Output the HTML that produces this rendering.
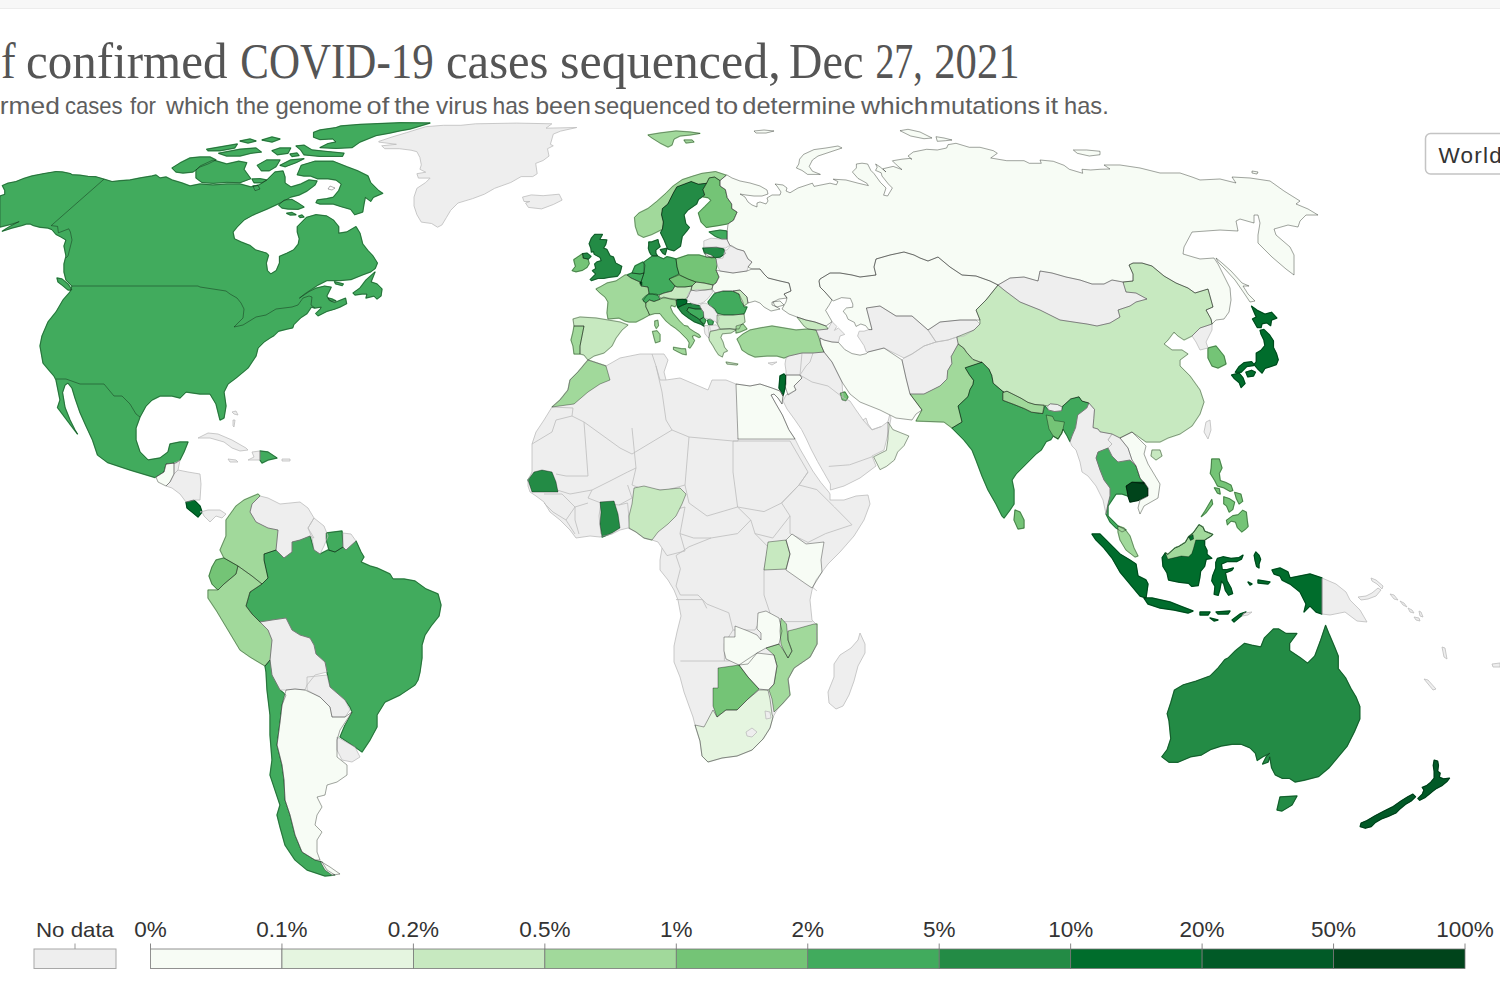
<!DOCTYPE html>
<html><head><meta charset="utf-8"><title>Share of confirmed COVID-19 cases sequenced</title>
<style>
html,body{margin:0;padding:0;background:#fff;}
body{width:1500px;height:1000px;overflow:hidden;position:relative;font-family:"Liberation Sans",Arial,sans-serif;}
.topbar{position:absolute;left:0;top:0;width:1500px;height:8px;background:#f7f7f7;border-bottom:1px solid #ececec;}
svg{position:absolute;left:0;top:0;}
.nl{fill:none;stroke:#bdbdbd;stroke-width:0.8;stroke-linejoin:round;}
</style></head>
<body>
<div class="topbar"></div>
<svg width="1500" height="1000" viewBox="0 0 1500 1000" font-family="Liberation Sans, Arial, sans-serif">
<g id="title">
<text x="-3" y="78" text-anchor="end" font-family="Liberation Serif, serif" font-size="50" fill="#555">Share o</text>
<text x="1.12" y="78" font-family="Liberation Serif, serif" font-size="50" fill="#555" textLength="14.57" lengthAdjust="spacingAndGlyphs">f</text>
<text x="26.04" y="78" font-family="Liberation Serif, serif" font-size="50" fill="#555" textLength="201.42" lengthAdjust="spacingAndGlyphs">confirmed</text>
<text x="240.28" y="78" font-family="Liberation Serif, serif" font-size="50" fill="#555" textLength="193.43" lengthAdjust="spacingAndGlyphs">COVID-19</text>
<text x="446.06" y="78" font-family="Liberation Serif, serif" font-size="50" fill="#555" textLength="102.40" lengthAdjust="spacingAndGlyphs">cases</text>
<text x="560.00" y="78" font-family="Liberation Serif, serif" font-size="50" fill="#555" textLength="220.73" lengthAdjust="spacingAndGlyphs">sequenced,</text>
<text x="789.08" y="78" font-family="Liberation Serif, serif" font-size="50" fill="#555" textLength="74.31" lengthAdjust="spacingAndGlyphs">Dec</text>
<text x="875.49" y="78" font-family="Liberation Serif, serif" font-size="50" fill="#555" textLength="47.15" lengthAdjust="spacingAndGlyphs">27,</text>
<text x="934.29" y="78" font-family="Liberation Serif, serif" font-size="50" fill="#555" textLength="85.26" lengthAdjust="spacingAndGlyphs">2021</text>
<text x="-6" y="113.6" text-anchor="end" font-size="24" fill="#5e5e5e">The share of confi</text>
<text x="-0.20" y="113.6" font-size="24" fill="#5e5e5e" textLength="60.05" lengthAdjust="spacingAndGlyphs">rmed</text>
<text x="65.08" y="113.6" font-size="24" fill="#5e5e5e" textLength="57.56" lengthAdjust="spacingAndGlyphs">cases</text>
<text x="130.00" y="113.6" font-size="24" fill="#5e5e5e" textLength="26.01" lengthAdjust="spacingAndGlyphs">for</text>
<text x="166.00" y="113.6" font-size="24" fill="#5e5e5e" textLength="63.40" lengthAdjust="spacingAndGlyphs">which</text>
<text x="236.00" y="113.6" font-size="24" fill="#5e5e5e" textLength="33.38" lengthAdjust="spacingAndGlyphs">the</text>
<text x="275.50" y="113.6" font-size="24" fill="#5e5e5e" textLength="86.53" lengthAdjust="spacingAndGlyphs">genome</text>
<text x="366.57" y="113.6" font-size="24" fill="#5e5e5e" textLength="22.65" lengthAdjust="spacingAndGlyphs">of</text>
<text x="394.30" y="113.6" font-size="24" fill="#5e5e5e" textLength="35.67" lengthAdjust="spacingAndGlyphs">the</text>
<text x="436.00" y="113.6" font-size="24" fill="#5e5e5e" textLength="51.48" lengthAdjust="spacingAndGlyphs">virus</text>
<text x="492.50" y="113.6" font-size="24" fill="#5e5e5e" textLength="36.77" lengthAdjust="spacingAndGlyphs">has</text>
<text x="535.16" y="113.6" font-size="24" fill="#5e5e5e" textLength="55.69" lengthAdjust="spacingAndGlyphs">been</text>
<text x="594.01" y="113.6" font-size="24" fill="#5e5e5e" textLength="116.42" lengthAdjust="spacingAndGlyphs">sequenced</text>
<text x="715.40" y="113.6" font-size="24" fill="#5e5e5e" textLength="22.75" lengthAdjust="spacingAndGlyphs">to</text>
<text x="742.24" y="113.6" font-size="24" fill="#5e5e5e" textLength="113.34" lengthAdjust="spacingAndGlyphs">determine</text>
<text x="861.00" y="113.6" font-size="24" fill="#5e5e5e" textLength="67.50" lengthAdjust="spacingAndGlyphs">which</text>
<text x="929.88" y="113.6" font-size="24" fill="#5e5e5e" textLength="110.24" lengthAdjust="spacingAndGlyphs">mutations</text>
<text x="1044.80" y="113.6" font-size="24" fill="#5e5e5e" textLength="13.20" lengthAdjust="spacingAndGlyphs">it</text>
<text x="1064.03" y="113.6" font-size="24" fill="#5e5e5e" textLength="44.71" lengthAdjust="spacingAndGlyphs">has.</text>
</g>
<g id="map">
<g stroke-width="1.4" stroke-linejoin="round">
<path d="M0,196 4.8,194.4 4.8,190.4 2.4,185.6 8,183.2 16,181.6 24,178.4 32,176 44,173.6 56,171.6 62.4,172 70.4,173.6 72,174.8 80,175.2 88,176.4 96,176.8 104,179.2 112,181.6 120,180.8 130,180 140,178 152,176 156,175 160,178 166,177 172,180 182,183 190,186 200,184 213,185 227,184 240,184 251,187 259,185 267,180 275,172 283,171 285,177 285,183 291,187 301,184 309,180 317,181 315,185 307,191 299,195 291,197 280,203 267,209 253,215 244,220 237,227 233,232 234.4,238.8 241,242 249.8,245.4 255.3,249.8 266.3,253.1 268.5,255.3 266.3,263 267.4,270.7 270.7,274 276.2,270.7 279.5,263 279.5,256.4 287.2,253.1 293.8,249.8 298.2,244.3 299.3,238.8 297.3,232 297.3,226.7 306.7,217.3 316,214.7 326.7,216 333.3,220 338.7,226.7 338.7,233.3 346.7,232 356,226.7 360,233.3 362.7,244 368,250.7 373,256 377.4,263 375.2,268.5 370.8,271.8 362,275.1 351,279.5 340,280.6 326.8,280.6 318,285 311.4,289.4 304.8,293.8 299.3,298.2 302.6,296 309.2,291.6 315.8,288.3 324.6,286.1 331.2,287.2 329,291.6 326.8,296 329,300.4 334.5,302.6 340,300.4 345.5,298.2 346.6,303.7 340,307 334.5,309.2 326.8,311.4 318,315.8 315.8,313.6 320.2,309.2 321.3,307 314.7,308.1 311.4,307 307,313.6 300.4,318 293.8,324.6 292.7,327.9 287.2,329 278.4,331.2 274,335.6 270,338 264,342 258,348 256,356 248,368 236,378 228,384 224,392 226,406 224,418 220,420 216,404 210,394 200,394 186,392 180,398 172,396 160,396 152,400 146,406 140,417 136,428 136,440 140,452 148,460 160,458 168,452 170,444 180,442 188,442 184,452 180,460 176,463 166,464 164,472 156,477 155,477.5 130,470 107.5,462.5 97.5,455 92.5,440 86,426 80,412.5 75,398 72,388 68,383 65,385 62.5,392.5 65,407.5 70,420 75,430 77.5,434 72.5,427.5 65,417.5 57.5,407.5 60,400 56,380 54,376 48,369 43,363 40,346 42,336 48,322 56,312 63,300 70,292 72,286 66,280 64,272 64,264 66,256 64,246 66,240 61,237 56,234.4 52,229.6 48,228 40,227.2 33.6,225.6 30.4,224 26.4,224 21.6,225.6 12,228 2.4,231.2 8,227.5 16,223.2 19.2,221.6 12,224 0,227Z" fill="#41ab5d" stroke="#41ab5d"/>
<path d="M353,293 360,288 366,280 375,272 373,277 371,282 377,284 382,289 381,296 377,299 374,296 370,297 366,298 367,294 362,294 355,295Z" fill="#41ab5d" stroke="#41ab5d"/>
<path d="M334.5,281.7 343.3,283.9 342.2,285.5 335.6,283.9Z" fill="#41ab5d" stroke="#41ab5d"/>
<path d="M328,298 332,299 336,301 331,301Z" fill="#41ab5d" stroke="#41ab5d"/>
<path d="M57,278 62,279 68,284 72,290 68,290 62,285 58,282Z" fill="#41ab5d" stroke="#41ab5d"/>
<path d="M172,168 180,163 190,158 200,157 210,157 216,160 208,164 200,167 193,172 183,173 176,172Z" fill="#41ab5d" stroke="#41ab5d"/>
<path d="M196,170 200,166 213,160 226.7,164 238.7,161.3 246.7,162.7 244,169.3 250.7,178.7 240,182.7 226.7,182.3 213.3,183.3 202,182.5 196,178Z" fill="#41ab5d" stroke="#41ab5d"/>
<path d="M206.7,149.3 237.3,144 234.7,148 220,150.7 208,150.7Z" fill="#41ab5d" stroke="#41ab5d"/>
<path d="M218.7,153.3 240,149.3 256,148 261.3,152 250.7,153.3 240,156 226.7,156Z" fill="#41ab5d" stroke="#41ab5d"/>
<path d="M252,179 260,178.7 266.7,180 262,182.7 254,182.7Z" fill="#41ab5d" stroke="#41ab5d"/>
<path d="M253,186 258,185.5 260,189 255,190.7Z" fill="#41ab5d" stroke="#41ab5d"/>
<path d="M257.3,165.3 266.7,160 280,160 276,166.7 269.3,170.7 261.3,170.7Z" fill="#41ab5d" stroke="#41ab5d"/>
<path d="M280,165.3 290.7,160 304,158.7 296,162.7 285.3,166.7Z" fill="#41ab5d" stroke="#41ab5d"/>
<path d="M296,146 304,145.2 312,150 328,151.6 344,153.2 342.4,156.4 320,156.4 304,154.8 300.8,150Z" fill="#41ab5d" stroke="#41ab5d"/>
<path d="M272,150.7 280,148 290.7,148 288,153.3 277.3,154.7Z" fill="#41ab5d" stroke="#41ab5d"/>
<path d="M290,154 297,153 299,155.5 292,156.5Z" fill="#41ab5d" stroke="#41ab5d"/>
<path d="M313.6,132.4 320,130 336,127.6 340.8,126 360,124.4 400,122.8 430,123 410,129 400,130.8 390,133 376,135.6 360,142 352,147.6 336,148.4 320,147.6 328,143.6 336,142 332.8,138.8 320,139.6 313.6,137.2Z" fill="#41ab5d" stroke="#41ab5d"/>
<path d="M262,140 272,137 280,139 272,142Z" fill="#41ab5d" stroke="#41ab5d"/>
<path d="M240,141 250,139 256,141 248,143Z" fill="#41ab5d" stroke="#41ab5d"/>
<path d="M297.3,174.7 301.3,165.3 314.7,161.3 333.3,161.3 346.7,166.7 357.3,170.7 368,176 370.7,182.7 378.7,190.7 382.7,193.3 373.3,197.3 370.7,201.3 365.3,197.3 364,204 362.7,212 354.7,214.7 350.7,209.3 341.3,206.7 333.3,204 320,204 316,202.7 317.3,200 326.7,198.7 333.3,197.3 338.7,190.7 341.3,184 336,180 328,178.7 317.3,178.7 310.7,176 304,176Z" fill="#41ab5d" stroke="#41ab5d"/>
<path d="M278.7,205 284,200 292,199.5 298,203 304,207 298,209.3 288,209 282,208Z" fill="#41ab5d" stroke="#41ab5d"/>
<path d="M286.7,213.3 292,212.5 296,214.7 290,215Z" fill="#41ab5d" stroke="#41ab5d"/>
<path d="M298.7,216 302,215 304,217 300,217.5Z" fill="#41ab5d" stroke="#41ab5d"/>
<path d="M156,477 164,472 166,464 174,463 174,474 170,482 166,486 158,482Z" fill="#f7fcf5" stroke="#f7fcf5"/>
<path d="M186,502 194,500 200,506 202,512 198,517 192,512 187,508Z" fill="#006d2c" stroke="#006d2c"/>
<path d="M260,451 268,452 277,458 268,460 262,463 260,460Z" fill="#41ab5d" stroke="#41ab5d"/>
<path d="M226,520 236,506 244,500 258,494 260,496 252,504 250,512 256,522 268,528 278,530 276,550 264,554 264,560 268,578 262,584 252,576 238,566 224,558 220,550 226,536 226,526Z" fill="#a1d99b" stroke="#a1d99b"/>
<path d="M326,533 342,531 343,547 335,552 329,550 326,539Z" fill="#41ab5d" stroke="#41ab5d"/>
<path d="M264,554 276,550 284,558 292,552 292,542 300,540 310,536 314,550 320,554 328,550 335,552 343,547 346,550 356,541 361,552 364,557 361,562 370,566 377,568 390,574 393,579 404,579 415,581 426,589 438,594 441,605 439,616 431,626 425,635 422,645 422,658 420,672 418,680 415,685 400,695 385,702 377,715 377,727 370,740 362,752 355,747 340,737 345,725 352,712 350,707 345,700 330,687 327,672 325,662 316,654 314,645 310,638 300,635 292,630 286,618 272,620 260,622 252,614 246,606 250,592 262,584 268,578 264,560Z" fill="#41ab5d" stroke="#41ab5d"/>
<path d="M209,576 212,567 216,560 224,558 238,566 236,574 224,584 218,590 212,584Z" fill="#74c476" stroke="#74c476"/>
<path d="M208,590 218,590 224,584 236,574 238,566 252,576 262,584 250,592 246,606 252,614 260,622 268,630 272,640 270,660 265,666 250,657 240,650 228,630 216,610 208,598Z" fill="#a1d99b" stroke="#a1d99b"/>
<path d="M265,666 270,660 272,675 280,690 286,695 282,705 280,722 277,745 282,765 284,780 285,800 290,815 295,835 302,852 315,860 322,862 327,870 335,875 325,876 307,870 295,860 285,845 280,827 277,815 280,805 275,790 270,775 272,760 270,735 270,715 267,690 266,672Z" fill="#41ab5d" stroke="#41ab5d"/>
<path d="M286,690 295,689 305,690 320,697 330,707 332,717 345,717 352,712 340,730 337,740 337,757 347,765 347,775 337,782 327,785 325,795 317,797 322,807 317,815 315,825 322,832 317,840 317,852 320,860 315,860 302,852 295,835 290,815 285,800 284,780 282,765 277,745 280,722 282,705Z" fill="#f7fcf5" stroke="#f7fcf5"/>
<path d="M320,861 330,867 340,874 332,875 325,870Z" fill="#f7fcf5" stroke="#f7fcf5"/>
<path d="M648,135 660,133 668,132 676,131 690,132 700,133.4 690,135 680,136 674,139 672,145 668,147 660,143 652,138Z" fill="#a1d99b" stroke="#a1d99b"/>
<path d="M684,140 692,140 694,142 686,143Z" fill="#a1d99b" stroke="#a1d99b"/>
<path d="M634.5,217.5 639,213 648,208.5 657,201.3 666,193.2 673.2,186 682.2,179.7 693,176.1 702,173.4 715.5,171.6 726.3,175.2 720,180.6 714.6,177 709.2,177.9 706.5,183.3 698.4,184.2 691.2,181.5 684,184.2 676.8,186.9 673.2,193.2 667.8,204 662.4,208.5 661.5,214.8 663.3,222 662.4,229.2 658.8,231 651.6,234.6 643.5,237.3 638.1,234.6 635.4,226.5Z" fill="#a1d99b" stroke="#a1d99b"/>
<path d="M691.2,181.5 698.4,184.2 706.5,183.3 702.9,189.6 704.7,195 698.4,199.5 696.6,204 687.6,210.3 684,214.8 685.8,223.8 689.4,227.4 686.7,231 682.2,236.4 680.4,246.3 674.1,250.8 667.8,249 664.2,240 660.6,232.8 662.4,229.2 663.3,222 661.5,214.8 662.4,208.5 667.8,204 673.2,193.2 676.8,186.9 684,184.2Z" fill="#238b45" stroke="#238b45"/>
<path d="M706.5,183.3 709.2,177.9 714.6,177 720,180.6 720,186 725.4,189.6 727.2,197.7 731.7,204 731.7,208.5 737.1,212.1 733.5,220.2 728.1,223.8 718.2,225.6 706.5,227.4 701.1,222 698.4,213 704.7,206.7 711,200.4 708.3,197.7 702.9,196.8 704.7,195 702.9,189.6Z" fill="#74c476" stroke="#74c476"/>
<path d="M709.2,231.9 720,230.1 727.2,231 727.2,239.1 721.8,239.1 715.5,236.4Z" fill="#41ab5d" stroke="#41ab5d"/>
<path d="M702.9,248.1 716.4,247.2 723.6,249 725.4,253.5 720,257.1 711,258 704.7,253.5Z" fill="#238b45" stroke="#238b45"/>
<path d="M705,253 711,255 714,257 706,257Z" fill="#f7fcf5" stroke="#f7fcf5"/>
<path d="M676,259 688,255 699,255 706,257 714,257 716,259 717,265 716,270 719,277 716,283 713,285 704,283 696,282 688,279 680,275 679,274 677,267Z" fill="#74c476" stroke="#74c476"/>
<path d="M644,262 651,257 652.6,256 657.5,256 660,257.4 663.5,258.8 667,256.7 670.5,257.4 676,259 677,267 679,274 669,279 675,286 672,291 664,293 659,295 656,294 649,294 648,287 641,286 641,282 644,273Z" fill="#41ab5d" stroke="#41ab5d"/>
<path d="M648.8,242 651.6,242 657.9,239.6 658.6,243 660,246.6 655.8,250 655.8,253.2 657.5,256 652.6,256 650.9,254.3 649.5,251.8 648.4,248.3 648.8,244.8Z" fill="#238b45" stroke="#238b45"/>
<path d="M660.3,249.7 667,248.3 665.2,254.6 662.8,253.2Z" fill="#238b45" stroke="#238b45"/>
<path d="M632,273 635,266 643,262 645,265 644,273 640,274Z" fill="#41ab5d" stroke="#41ab5d"/>
<path d="M627,275 632,273 640,274 644,273 641,282 640,282 631,278Z" fill="#41ab5d" stroke="#41ab5d"/>
<path d="M640,282 642,282 642,285 640,284Z" fill="#006d2c" stroke="#006d2c"/>
<path d="M596,289 600,287 607,283 616,281 625,275 627,275 631,278 640,282 640,284 641,286 648,287 649,293 645,298 643,301 645.8,303 645.8,306.8 648,311.3 649.5,315 644,318 636,322 629,322 625,321 619,318 608,319 607,313 608,302 605,297 600,293Z" fill="#a1d99b" stroke="#a1d99b"/>
<path d="M654.8,321 657.8,320.3 658.5,325.5 656.3,328.5 654.8,325.5Z" fill="#a1d99b" stroke="#a1d99b"/>
<path d="M642,299.3 645.8,295.5 649,294 652.5,294 657.8,295.5 660,299.3 654,301.5 649.5,300 645.8,303Z" fill="#41ab5d" stroke="#41ab5d"/>
<path d="M659,295 664,293 672,291 675,286 677,287 685,287 692,286 691,290 688,297 685,299 675,299 667,298 660,298Z" fill="#c7e9c0" stroke="#c7e9c0"/>
<path d="M669,279 679,275 688,279 696,282 692,286 685,287 677,287 675,286Z" fill="#74c476" stroke="#74c476"/>
<path d="M692,286 696,282 704,283 713,285 712,289 704,290 696,291 691,290Z" fill="#c7e9c0" stroke="#c7e9c0"/>
<path d="M675.8,300 682.5,299.3 687,300 686.3,303.8 682.5,305.3 678,307.5 676.5,304.5Z" fill="#006d2c" stroke="#006d2c"/>
<path d="M678,307.5 682.5,305.3 686.3,303.8 692.3,303.8 699.8,306 701.3,309 695.3,309 688.5,307.5 687,310.5 690,313.5 697.5,318 702,322.5 704.3,326.3 700.5,324 694.5,321.8 688.5,318 682.5,313.5Z" fill="#238b45" stroke="#238b45"/>
<path d="M688.5,307.5 695.3,309 701.3,309 703.5,312 703.5,317.3 699.8,319.5 697.5,318 690,313.5 687,310.5Z" fill="#41ab5d" stroke="#41ab5d"/>
<path d="M699.8,319.5 703.5,317.3 705.8,320.3 704.3,324 701.3,322.5Z" fill="#41ab5d" stroke="#41ab5d"/>
<path d="M707.3,320.3 710.3,318.8 713.3,321.8 712.5,324.8 708.8,324.8Z" fill="#41ab5d" stroke="#41ab5d"/>
<path d="M708,302 715,293 723,291 732,291 739,294 743,302 744,307 747,307 744,314 733,315 724,315 717,313 715,309 709,305Z" fill="#41ab5d" stroke="#41ab5d"/>
<path d="M733,291 740,290 747,297 748,303 744,306 741,301 739,294Z" fill="#c7e9c0" stroke="#c7e9c0"/>
<path d="M717,315 724,315 733,315 744,314 745,322 741,325 739,329 731,329 720,329 717,323Z" fill="#c7e9c0" stroke="#c7e9c0"/>
<path d="M708.8,337.5 710.3,331.5 717,330 720.8,329.3 730,328.5 736,330 731,333 722.3,333.8 720.8,337.5 723,342 724.5,347.3 727.5,351 723.8,352.5 722.3,357 718.5,354.8 715.5,350.3 712.5,345 709.5,340.5Z" fill="#c7e9c0" stroke="#c7e9c0"/>
<path d="M726,362 738,364 737,365 727,364Z" fill="#c7e9c0" stroke="#c7e9c0"/>
<path d="M737,339 743,334 750,330 760,328 772,326 784,328 796,330 808,329 816,330 819,338 821,345 824,352 813,353 802,353 789,356 784,358 777,356 767,356 755,357 748,354 742,350 740,345Z" fill="#a1d99b" stroke="#a1d99b"/>
<path d="M736,326 743,324 747,329 740,332 736,333Z" fill="#a1d99b" stroke="#a1d99b"/>
<path d="M797,317 806,320 815,322 826,326 828,329 819,330 816,330 808,329 804,326Z" fill="#c7e9c0" stroke="#c7e9c0"/>
<path d="M720,271 733,273 747,271 752,269 760,269 764,274 768,278 780,281 789,283 791,291 784,294 787,298 779,299 773,302 775,306 780,309 771,311 764,307 760,303 755,301 748,303 747,297 740,290 733,291 723,291 715,293 712,289 713,285 716,283 719,277 716,270Z" fill="#f7fcf5" stroke="#f7fcf5"/>
<path d="M772,302 780,301 784,305 777,307 772,305Z" fill="#f7fcf5" stroke="#f7fcf5"/>
<path d="M594.7,234.4 602.4,234.4 599.7,239.4 606.8,239.9 605.7,244.3 603.5,248.2 606.8,249.3 610.1,255.9 613.4,257 615.6,263 621.7,266.3 620,272.9 617.3,276.2 609,277.3 603.5,278.4 598,278.4 591.4,280.6 590.3,279.5 595.8,274 592.5,270.7 595.8,268.5 594.7,264.1 596.9,261.9 601.3,260.8 600.2,257.5 594.2,254.2 593.6,251.5 591.4,252 590.9,248.2 589.2,243.8 591.4,238.3Z" fill="#238b45" stroke="#238b45"/>
<path d="M573.8,259.7 582.6,253.7 583.2,258.1 588.1,259.2 589.2,263.6 587,267.4 582.6,270.2 576,271.8 572.2,270.7 575.5,266.3 574.4,262.5Z" fill="#74c476" stroke="#74c476"/>
<path d="M582.6,253.7 587,253.1 590.9,256.4 588.1,259.2 583.2,258.1Z" fill="#238b45" stroke="#238b45"/>
<path d="M573,319 580,317 596,318 608,320 620,322 628,325 622,330 616,338 612,346 604,353 594,356 588,360 584,355 580,354 580,346 582,336 584,326 574,326Z" fill="#c7e9c0" stroke="#c7e9c0"/>
<path d="M574,326 584,326 582,336 580,346 580,354 574,354 573,346 571,340 573,332Z" fill="#a1d99b" stroke="#a1d99b"/>
<path d="M645.8,303 649.5,300 654,301.5 660,299.3 663.8,297 670.5,299.3 676.5,300 676.5,304.5 675,306.8 671.3,305.3 670.5,307.5 672.8,312.8 675.8,316.5 679.5,321 684,325.5 687.8,326.3 689.3,328.5 693.8,331.5 699,334.5 700.5,336.8 699,337.5 694.5,335.3 692.3,336 693,338.3 694.5,340.5 693,343.5 690,348 688.5,347.3 689.3,342.8 687,339 684,336 679.5,331.5 675,327.8 670.5,324.8 666,321 662.3,316.5 660,313.5 654.8,313.5 649.5,315 648,311.3 645.8,306.8Z" fill="#a1d99b" stroke="#a1d99b"/>
<path d="M673.5,347.3 681.8,348.8 685.5,348.8 686.3,354.8 682.5,354 678,351.8 673.5,349.5Z" fill="#a1d99b" stroke="#a1d99b"/>
<path d="M652.5,331.5 657,330.8 660,334.5 660,341.3 655.5,342.8 654,337.5Z" fill="#a1d99b" stroke="#a1d99b"/>
<path d="M727,175 732,178 740,181 750,183 760,186 767,190 768,194 762,196 754,196 746,195 740,194 745,197 748,202 752,205 757,207 757,203 760,202 766,204 768,201 767,198 772,195 780,195 781,192 777,186 775,184 783,185 787,188 786,191 790,192.8 798,188 812.4,183.2 814,186.4 830,183.2 836.4,184.8 838,181.6 833.2,179.2 846,180 858,183.2 868.4,185.6 866.8,183.2 858,178.4 852.4,172 856.4,168 856.4,164 862,163.2 867.6,164 870.8,170.4 874,173.6 880.4,182.4 886,188 883.6,195.2 887.6,196 892.4,188 888.4,184 882,176 881.2,172.8 875.6,170.4 877.2,167.2 875.6,164 880.4,167.2 886,172 882.8,168.8 893.2,166.4 902,169.6 896.4,164.8 892.4,160.8 902,159.2 910,158.4 912,159.3 908,156 913.3,152 926.7,149.3 937.3,150 946.7,148 948,144.7 956,143.3 969.3,147.3 980,147.3 993.3,150.7 997.3,153.3 990.7,158 1006.7,160.7 1024,160.7 1029.3,163.3 1041.3,163.3 1040,160 1053.3,161.3 1064,165.3 1069.3,169.3 1082.7,173.3 1082,169.3 1090.7,170 1100,169.3 1110,169 1104,165 1120,165 1140,168 1160,173 1180,173 1192,177 1200,180 1220,179 1236,183 1232,177 1250,178 1270,181 1284,191 1300,201 1296,204 1308,209 1318,215 1306,215 1300,221 1298,227 1288,225 1274,229 1276,235 1290,247 1294,255 1294,275 1286,269 1272,257 1258,243 1258,235 1260,223 1258,215 1254,215 1254,223 1240,219 1236,221 1238,231 1220,230 1192,232 1184,247 1183,254 1193,257 1200,259 1214,258 1218,264 1224,276 1230,288 1231,300 1229,312 1224,319 1216,320 1212,324 1211,319 1206,310 1213,307 1208,289 1195,293 1188,288 1176,283 1164,276 1152,266 1142,263 1133,263 1129,265 1133,274 1133,281 1123,282 1112,280 1104,284 1092,284 1080,280 1066,277 1052,273 1040,271 1038,281 1024,277 1010,278 998,285 990,281 976,276 962,275 950,267 938,257 928,261 920,258 914,255 904,252 890,255 876,259 874,267 876,275 860,277 852,275 840,273 830,273 820,279 819,281 820,287 825,292 832,300 828.8,305.6 825.6,310.4 828.8,316 832,321.6 826,326 815,322 806,320 797,317 789,314 782,309 786,302 787,298 784,294 791,291 789,283 780,281 768,278 764,274 760,269 752,269 748,267 752,262 748,259 744,251 737,249 729.9,245.4 727.2,240 727.2,231 728.1,223.8 733.5,220.2 737.1,212.1 731.7,208.5 731.7,204 727.2,197.7 725.4,189.6 720,186 720,180.6 726.3,175.2Z" fill="#f7fcf5" stroke="#f7fcf5"/>
<path d="M796.4,168 798.8,164 799.6,159.2 803.6,154.4 814,149.6 826,148 838,146 842,148 830,152 818,156 812.4,160 809.2,166.4 812.4,171.2 820.4,174.4 807.6,174.4 802,170.4Z" fill="#f7fcf5" stroke="#f7fcf5"/>
<path d="M900,130.7 908,129.3 920,132 932,138 924,138.7 910.7,136Z" fill="#f7fcf5" stroke="#f7fcf5"/>
<path d="M936,136.7 944,138 952,140 945.3,140.7 937.3,141.3Z" fill="#f7fcf5" stroke="#f7fcf5"/>
<path d="M1073.3,150 1086.7,150 1100,151.3 1100,154.7 1089.3,156 1077.3,153.3Z" fill="#f7fcf5" stroke="#f7fcf5"/>
<path d="M754,131 764,130 774,131 766,133 756,133Z" fill="#f7fcf5" stroke="#f7fcf5"/>
<path d="M1252,171 1258,172 1257,174 1252,173Z" fill="#f7fcf5" stroke="#f7fcf5"/>
<path d="M1216,258 1222,263 1231,271 1242,283 1249,286 1243,286 1248,294 1255,301 1250,302 1244,293 1235,280 1224,268 1218,262Z" fill="#f7fcf5" stroke="#f7fcf5"/>
<path d="M820,279 830,273 840,273 852,275 860,277 876,275 874,267 876,259 890,255 904,252 914,255 920,258 928,261 938,257 950,267 962,275 976,276 990,281 998,285 994,290 986,300 976,310 980,320 976,320 960,320 940,322 928,330 912,316 896,316 880,306 866.4,308 872,329.6 868.8,329.6 865.6,325.6 860.8,324 856,326.4 854.4,322.4 848,319.2 846.4,315.2 843.2,311.2 846.4,308 852.8,307.2 852.8,304 850.4,298.4 841.6,297.6 833.6,300.8 832,300 825,292 820,287 819,281Z" fill="#f7fcf5" stroke="#f7fcf5"/>
<path d="M821,345 820,338 824,340 832,342 838.4,342.4 844.8,349.6 852,353.6 860,355.2 866.4,353.6 868,352 884,348 902,360 906,378 910,394 922,410 916,414 912,420 896,418 888,414 880,410 860,402 850,394 842,382 832,362 824,352Z" fill="#f7fcf5" stroke="#f7fcf5"/>
<path d="M910,394 924,394 940,386 947,379 947.7,370.6 951.9,363.6 951.2,356.6 958.2,344 963.8,348.2 966.6,352.4 972.9,359.4 980.6,362.2 982,362.2 965.2,367.8 969.4,374.8 973.6,380.4 972.9,384.6 970,389.5 968,396.5 958,406 962,422 952,428 944,422 916,421 922,410Z" fill="#a1d99b" stroke="#a1d99b"/>
<path d="M956.8,337 958.2,344 963.8,348.2 966.6,352.4 972.9,359.4 980.6,362.2 982,362.2 989,369.2 991.8,375.5 993.2,383.2 1003,391.6 1004,392 1007,391.2 1021,398.2 1028,402.4 1035,404.5 1044,405.2 1047.6,405.9 1050.4,403.8 1057.4,404.5 1061.6,406.6 1063,405.9 1070.7,398.9 1079,396.8 1081.9,401 1088.9,403 1094.5,409.4 1093.8,418.5 1093,427.6 1098,429 1100,431.8 1112,434 1120,438 1132,432 1146,442 1160,442 1168,438 1180,434 1192,426 1200,414 1204,402 1200,390 1190,376 1180,366 1180,360 1188,354 1182,350 1172,350 1164,344 1168,340 1174,332 1178,336 1184,340 1192,336 1200,328 1212,324 1211,319 1206,310 1213,307 1208,289 1195,293 1188,288 1176,283 1164,276 1152,266 1142,263 1133,263 1129,265 1133,274 1133,281 1123,282 1126,292 1136,293 1147,299 1136,302 1130,306 1118,310 1120,317 1110,323 1097,326 1087,324 1080,323 1060,320 1040,310 1020,302 1004,290 998,285 994,290 986,300 976,310 980,320 980,324 974,330Z" fill="#c7e9c0" stroke="#c7e9c0"/>
<path d="M965.2,367.8 982,362.2 989,369.2 991.8,375.5 993.2,383.2 1003,391.6 1004,392 1002.8,392.6 1002.8,400.3 1014,404.5 1024.5,408.7 1031.5,412.2 1042.7,413.6 1044.8,405.9 1048.3,410 1054.6,411.5 1061.6,410.8 1063,405.9 1070.7,398.9 1079,396.8 1081.9,401 1088.9,403 1086.8,408 1077.7,415 1075.6,427.6 1072,436 1070,441.6 1067.2,436 1063,429 1061.6,433.2 1058,438.8 1053.2,436 1051,439.5 1046.2,441.6 1041.3,450 1036,454 1024,466 1016,474 1012,480 1014,490 1014,504 1010,510 1004,518 1002,516 996,504 988,490 982,476 976,460 972,450 964,440 958,434 952,428 962,422 958,406 968,396.5 970,389.5 972.9,384.6 973.6,380.4 969.4,374.8Z" fill="#41ab5d" stroke="#41ab5d"/>
<path d="M1002.8,392.6 1007,391.2 1021,398.2 1028,402.4 1035,404.5 1044,405.2 1042.7,413.6 1031.5,412.2 1024.5,408.7 1014,404.5 1002.8,400.3Z" fill="#a1d99b" stroke="#a1d99b"/>
<path d="M1046.2,415 1052.5,416.4 1054.6,420.6 1064.4,422 1063,429 1061.6,433.2 1058,438.8 1053.2,436 1049,429 1047.6,422Z" fill="#74c476" stroke="#74c476"/>
<path d="M1015,510 1020,512 1024,520 1024,528 1018,529 1014,520Z" fill="#74c476" stroke="#74c476"/>
<path d="M1208,348 1216,346 1224,356 1226,364 1218,368 1212,366 1208,358Z" fill="#74c476" stroke="#74c476"/>
<path d="M1251.6,306.2 1257.3,310.4 1264.9,314.2 1271.5,312.3 1276.8,318 1271.5,320 1270.6,325.6 1266.8,322.8 1262,323.7 1261.1,327.5 1257.3,327.5 1252.5,319 1256.3,317.1Z" fill="#006d2c" stroke="#006d2c"/>
<path d="M1260.1,330.4 1263.9,329.4 1269.6,335.1 1273.4,340.8 1273.4,347.5 1276.3,353.2 1278.2,359.8 1276.3,364.6 1270.6,366.5 1264.9,368.4 1262,373.1 1257.3,368.4 1251.6,361.7 1244,362.7 1239.2,366.5 1235.4,372.2 1241.1,372.2 1246.8,366.5 1253.5,365.5 1256.3,361.7 1256.3,353.2 1261.1,350.3 1264.9,345.6 1263.9,339.9 1261.1,334.2Z" fill="#006d2c" stroke="#006d2c"/>
<path d="M1231.6,375 1239.2,373.1 1243,377.9 1245,383.6 1241.1,387.4 1239.2,382.6 1234.5,378.8Z" fill="#006d2c" stroke="#006d2c"/>
<path d="M1245.9,372.2 1251.6,370.3 1255.4,372.2 1253.5,376 1247.8,376.9Z" fill="#006d2c" stroke="#006d2c"/>
<path d="M1152,450 1160,450 1162,456 1156,460 1151,456Z" fill="#c7e9c0" stroke="#c7e9c0"/>
<path d="M1098,452 1108,448 1112,456 1118,462 1130,460 1136,466 1140,478 1144,484 1132,482 1126,486 1128,496 1122,494 1116,494 1112,500 1108,506 1108,516 1112,520 1118,526 1126,530 1122,532 1116,528 1110,522 1106,514 1108,504 1110,496 1110,488 1104,480 1100,470 1096,458Z" fill="#41ab5d" stroke="#41ab5d"/>
<path d="M1126,486 1132,482 1144,482 1148,488 1148,496 1140,500 1130,502 1128,496Z" fill="#00441b" stroke="#00441b"/>
<path d="M1120,438 1132,432 1140,440 1146,446 1144,454 1148,464 1154,474 1160,484 1158,498 1144,506 1140,514 1138,508 1140,500 1148,496 1148,488 1144,482 1140,478 1136,466 1132,460 1128,448Z" fill="#f7fcf5" stroke="#f7fcf5"/>
<path d="M1118,526 1124,528 1130,536 1134,548 1138,556 1135,557 1126,550 1120,540 1118,532Z" fill="#a1d99b" stroke="#a1d99b"/>
<path d="M1092,534 1100,534 1110,544 1120,554 1130,560 1136,564 1138,576 1146,580 1148,584 1146,598 1140,596 1130,584 1120,572 1112,558 1104,548 1096,540Z" fill="#006d2c" stroke="#006d2c"/>
<path d="M1144,598 1152,598 1170,602 1180,606 1193,611 1188,613 1174,610 1160,608 1148,604Z" fill="#006d2c" stroke="#006d2c"/>
<path d="M1200,612 1210,612 1208,615 1200,615Z" fill="#006d2c" stroke="#006d2c"/>
<path d="M1216,612 1230,611 1228,614 1218,614Z" fill="#006d2c" stroke="#006d2c"/>
<path d="M1210,618 1218,620 1214,621Z" fill="#006d2c" stroke="#006d2c"/>
<path d="M1232,620 1240,614 1246,612 1240,617 1234,622Z" fill="#006d2c" stroke="#006d2c"/>
<path d="M1165.4,552.8 1167.8,554.4 1175,548 1179,546.4 1185.4,542.4 1188.6,536.8 1193.4,532.8 1199,524.8 1203,527.2 1204.6,531.2 1212.6,534.4 1211,536 1204.6,540 1204.6,545.6 1207,550.4 1207,554.4 1211.8,558.4 1206.2,559.2 1204.6,566.4 1200.6,571.2 1199.8,577.6 1198.2,585.6 1191.8,586.4 1188.6,583.2 1179.8,582.4 1175.8,581.6 1168.6,580 1167,572.8 1163,566.4 1162.2,557.6Z" fill="#006d2c" stroke="#006d2c"/>
<path d="M1165.4,552.8 1167.8,554.4 1175,548 1179,546.4 1185.4,542.4 1188.6,536.8 1193.4,532.8 1199,524.8 1203,527.2 1204.6,531.2 1212.6,534.4 1211,536 1204.6,540 1195.8,540 1193.4,548.8 1191.8,553.6 1188.6,556.8 1181.4,556 1175,557.6 1167.8,559.2Z" fill="#a1d99b" stroke="#a1d99b"/>
<path d="M1188.6,537 1193,534.5 1193.6,539 1190.5,540.5Z" fill="#006d2c" stroke="#006d2c"/>
<path d="M1217.4,558.4 1223,556.8 1231,558.4 1239,557.6 1243,555.2 1241.4,559.2 1236.6,561.6 1227,561.6 1221.4,564 1222.2,569.6 1227,569.6 1233.4,568 1231.8,570.4 1225.4,572.8 1227,580.8 1231,588 1232.6,593.6 1228.6,595.2 1225.4,590.4 1223.8,584 1221.4,580.8 1219.8,589.6 1218.2,595.2 1214.2,594.4 1215,586.4 1211.8,580.8 1212.6,576 1215.8,568 1215.8,562.4Z" fill="#006d2c" stroke="#006d2c"/>
<path d="M1255.8,552 1259,555.2 1260.6,559.2 1259,564 1259,568 1256.6,566.4 1255,560 1254.2,555.2Z" fill="#006d2c" stroke="#006d2c"/>
<path d="M1248,582 1252,584 1250,585Z" fill="#006d2c" stroke="#006d2c"/>
<path d="M1258,580 1270,582 1268,584 1258,583Z" fill="#006d2c" stroke="#006d2c"/>
<path d="M1272,570 1280,568 1288,572 1290,578 1300,576 1310,574 1322,578 1322,614 1316,612 1310,606 1304,612 1306,604 1300,592 1290,584 1282,580 1280,576 1274,574Z" fill="#006d2c" stroke="#006d2c"/>
<path d="M1211.7,459 1219.3,459 1222,468 1219.3,473.4 1220.2,480.6 1225.6,482.4 1231,485.1 1232.8,490.5 1230.1,491.4 1223.8,487.8 1217.5,486 1214.8,480.6 1210.3,473.4 1211.2,468Z" fill="#74c476" stroke="#74c476"/>
<path d="M1214.4,487.8 1219.3,488.7 1220.2,494.1 1217.5,493.2Z" fill="#74c476" stroke="#74c476"/>
<path d="M1234.6,492.3 1240.9,494.1 1242.7,501.3 1239.1,504 1236.4,498.6Z" fill="#74c476" stroke="#74c476"/>
<path d="M1223.8,496.8 1229.2,498.6 1234.6,502.2 1232.8,509.4 1229.2,512.1 1226.5,505.8 1223.8,504Z" fill="#74c476" stroke="#74c476"/>
<path d="M1226.5,520.2 1232.8,515.7 1238.2,514.8 1242.7,510.3 1246.3,512.1 1247.2,520.2 1248.1,526.5 1245.4,529.2 1241.8,531.9 1237.3,527.4 1235.5,522 1231,521.1 1227.4,524.7Z" fill="#74c476" stroke="#74c476"/>
<path d="M1211.7,499.5 1212.6,504 1205.8,513 1201.3,516.6 1204.9,511.2Z" fill="#74c476" stroke="#74c476"/>
<path d="M1161.8,756.8 1167.2,749.6 1170.8,738.8 1169,720.8 1167.2,713.6 1170.8,702.8 1174.4,690.2 1183.4,684.8 1196,681.2 1210.4,675.8 1217.6,668.6 1224.8,659.6 1228.4,657.8 1235.6,650.6 1244.6,643.4 1251.8,645.2 1260.8,647 1264.4,638 1273.4,629 1278.8,629 1286,633.5 1296.8,633.5 1289.6,643.4 1289.6,650.6 1300.4,657.8 1307.6,663.2 1314.8,656 1320.2,641.6 1325.6,625.4 1329.2,634.4 1334.6,647 1338.2,656 1338.2,668.6 1345.4,677.6 1350.8,688.4 1356.2,697.4 1359.8,706.4 1359.8,719 1354.4,731.6 1347.2,746 1338.2,756.8 1329.2,767.6 1318.4,776.6 1304,780.2 1295,782 1289.6,778.4 1282.4,778.4 1275.2,774.8 1271.6,767.6 1269.8,756.8 1268,762.2 1262.6,764 1266.2,756.8 1269.8,753.2 1262.6,756.8 1257.2,760.4 1255.4,753.2 1250,747.8 1241,744.2 1232,744.2 1221.2,746 1210.4,749.6 1201.4,755 1190.6,756.8 1178,762.2 1169,762.2Z" fill="#238b45" stroke="#238b45"/>
<path d="M1280,797 1297,796 1292,805 1282,811 1277,810Z" fill="#238b45" stroke="#238b45"/>
<path d="M1434.2,760.2 1437.6,761.1 1438.4,765.3 1437.6,771.3 1440.1,773 1439.3,777.2 1443.5,778.9 1449.5,778.1 1446.9,781.5 1441.8,785.7 1436.7,788.3 1433.3,790.8 1429.1,794.2 1424.8,797.6 1419.7,800.2 1418,798.5 1422.3,794.2 1424,790 1422.3,787.4 1426.5,785.7 1430.8,782.3 1434.2,778.1 1434.2,771.3 1433.3,765.3Z" fill="#015a27" stroke="#015a27"/>
<path d="M1412.9,794.2 1415.5,796.8 1411.2,801 1405.3,804.4 1399.3,809.5 1395.9,812.9 1388.3,816.3 1381.5,818.9 1375.5,822.3 1371.3,826.5 1365.3,828.2 1360.2,826.5 1361.1,823.1 1367,820.6 1375.5,815.5 1384,811.2 1392.5,807 1401,801 1407.8,796.8Z" fill="#015a27" stroke="#015a27"/>
<path d="M786,375 800,375 802,378 794,386 796,390 788,395 785,386Z" fill="#f7fcf5" stroke="#f7fcf5"/>
<path d="M780,376 784,374 786,376 786,384 783,396 779,388Z" fill="#006d2c" stroke="#006d2c"/>
<path d="M888,422 892.8,429.6 900.8,432.8 908.8,436 904,445.6 897.6,452 894.4,460 886.4,466.4 880,469.6 873.6,456.8 886.4,450.4 888,439Z" fill="#e5f5e0" stroke="#e5f5e0"/>
<path d="M840,393 845,392 848,397 846,401 842,400Z" fill="#74c476" stroke="#74c476"/>
<path d="M588,360 600,364 606,366 610,380 600,384 588,392 574,404 552,407 560,400 568,390 570,380 578,372Z" fill="#a1d99b" stroke="#a1d99b"/>
<path d="M736,384 750,386 760,384 772,388 780,391 783,396 782,404 778,398 774,394 771,395 776,404 782.4,415 788.8,429.6 795,439 738,439Z" fill="#f7fcf5" stroke="#f7fcf5"/>
<path d="M528,480 534,472 542,470 552,472 556,482 558,492 544,492 532,492 530,486Z" fill="#238b45" stroke="#238b45"/>
<path d="M600,502 614,501 618,514 620,528 612,533 602,537 600,524 601,512Z" fill="#238b45" stroke="#238b45"/>
<path d="M634,488 644,486 660,490 680,488 686,494 682,504 676,516 668,524 658,532 652,540 644,538 636,532 629,528 629,516 632,504Z" fill="#c7e9c0" stroke="#c7e9c0"/>
<path d="M768,542 786,540 790,554 786,569 764,570 766,556Z" fill="#c7e9c0" stroke="#c7e9c0"/>
<path d="M786,540 792,534 806,544 824,542 821,560 822,572 812,588 806,584 786,570 790,554Z" fill="#f7fcf5" stroke="#f7fcf5"/>
<path d="M724,637 735,637 735,626 748,631 757,635 761,640 761,633 757,629 758,613 766,611 779,618 782,631 779,644 766,648 757,653 748,664 739,665 726,659 724,651Z" fill="#f7fcf5" stroke="#f7fcf5"/>
<path d="M788,631 796,629 814,624 817,624 817,644 810,657 794,668 788,679 790,695 783,703 774,712 772,699 769,690 774,684 777,666 774,655 766,648 779,644 784,651 788,658 792,651 788,640Z" fill="#a1d99b" stroke="#a1d99b"/>
<path d="M781,618 786.5,624 788,640 792,651 788,658 784,651 781,644 780,631Z" fill="#a1d99b" stroke="#a1d99b"/>
<path d="M739,665 757,653 774,655 777,666 774,684 768,690 759,689 748,677Z" fill="#f7fcf5" stroke="#f7fcf5"/>
<path d="M718,668 739,665 748,677 759,689 748,699 737,710 726,710 717,717 713,706 713,688 718,688Z" fill="#74c476" stroke="#74c476"/>
<path d="M695,725 704,727 713,710 717,717 726,710 737,710 748,699 759,690 768,690 770,699 772,714 773,717 770,728 763,739 752,750 737,756 722,758 708,762 702,756 700,741Z" fill="#e5f5e0" stroke="#e5f5e0"/>
</g>
<g>
<path d="M0,196 4.8,194.4 4.8,190.4 2.4,185.6 8,183.2 16,181.6 24,178.4 32,176 44,173.6 56,171.6 62.4,172 70.4,173.6 72,174.8 80,175.2 88,176.4 96,176.8 104,179.2 112,181.6 120,180.8 130,180 140,178 152,176 156,175 160,178 166,177 172,180 182,183 190,186 200,184 213,185 227,184 240,184 251,187 259,185 267,180 275,172 283,171 285,177 285,183 291,187 301,184 309,180 317,181 315,185 307,191 299,195 291,197 280,203 267,209 253,215 244,220 237,227 233,232 234.4,238.8 241,242 249.8,245.4 255.3,249.8 266.3,253.1 268.5,255.3 266.3,263 267.4,270.7 270.7,274 276.2,270.7 279.5,263 279.5,256.4 287.2,253.1 293.8,249.8 298.2,244.3 299.3,238.8 297.3,232 297.3,226.7 306.7,217.3 316,214.7 326.7,216 333.3,220 338.7,226.7 338.7,233.3 346.7,232 356,226.7 360,233.3 362.7,244 368,250.7 373,256 377.4,263 375.2,268.5 370.8,271.8 362,275.1 351,279.5 340,280.6 326.8,280.6 318,285 311.4,289.4 304.8,293.8 299.3,298.2 302.6,296 309.2,291.6 315.8,288.3 324.6,286.1 331.2,287.2 329,291.6 326.8,296 329,300.4 334.5,302.6 340,300.4 345.5,298.2 346.6,303.7 340,307 334.5,309.2 326.8,311.4 318,315.8 315.8,313.6 320.2,309.2 321.3,307 314.7,308.1 311.4,307 307,313.6 300.4,318 293.8,324.6 292.7,327.9 287.2,329 278.4,331.2 274,335.6 270,338 264,342 258,348 256,356 248,368 236,378 228,384 224,392 226,406 224,418 220,420 216,404 210,394 200,394 186,392 180,398 172,396 160,396 152,400 146,406 140,417 136,428 136,440 140,452 148,460 160,458 168,452 170,444 180,442 188,442 184,452 180,460 176,463 166,464 164,472 156,477 155,477.5 130,470 107.5,462.5 97.5,455 92.5,440 86,426 80,412.5 75,398 72,388 68,383 65,385 62.5,392.5 65,407.5 70,420 75,430 77.5,434 72.5,427.5 65,417.5 57.5,407.5 60,400 56,380 54,376 48,369 43,363 40,346 42,336 48,322 56,312 63,300 70,292 72,286 66,280 64,272 64,264 66,256 64,246 66,240 61,237 56,234.4 52,229.6 48,228 40,227.2 33.6,225.6 30.4,224 26.4,224 21.6,225.6 12,228 2.4,231.2 8,227.5 16,223.2 19.2,221.6 12,224 0,227Z" fill="#41ab5d"/>
<path d="M353,293 360,288 366,280 375,272 373,277 371,282 377,284 382,289 381,296 377,299 374,296 370,297 366,298 367,294 362,294 355,295Z" fill="#41ab5d"/>
<path d="M334.5,281.7 343.3,283.9 342.2,285.5 335.6,283.9Z" fill="#41ab5d"/>
<path d="M328,298 332,299 336,301 331,301Z" fill="#41ab5d"/>
<path d="M57,278 62,279 68,284 72,290 68,290 62,285 58,282Z" fill="#41ab5d"/>
<path d="M172,168 180,163 190,158 200,157 210,157 216,160 208,164 200,167 193,172 183,173 176,172Z" fill="#41ab5d"/>
<path d="M196,170 200,166 213,160 226.7,164 238.7,161.3 246.7,162.7 244,169.3 250.7,178.7 240,182.7 226.7,182.3 213.3,183.3 202,182.5 196,178Z" fill="#41ab5d"/>
<path d="M206.7,149.3 237.3,144 234.7,148 220,150.7 208,150.7Z" fill="#41ab5d"/>
<path d="M218.7,153.3 240,149.3 256,148 261.3,152 250.7,153.3 240,156 226.7,156Z" fill="#41ab5d"/>
<path d="M252,179 260,178.7 266.7,180 262,182.7 254,182.7Z" fill="#41ab5d"/>
<path d="M253,186 258,185.5 260,189 255,190.7Z" fill="#41ab5d"/>
<path d="M257.3,165.3 266.7,160 280,160 276,166.7 269.3,170.7 261.3,170.7Z" fill="#41ab5d"/>
<path d="M280,165.3 290.7,160 304,158.7 296,162.7 285.3,166.7Z" fill="#41ab5d"/>
<path d="M296,146 304,145.2 312,150 328,151.6 344,153.2 342.4,156.4 320,156.4 304,154.8 300.8,150Z" fill="#41ab5d"/>
<path d="M272,150.7 280,148 290.7,148 288,153.3 277.3,154.7Z" fill="#41ab5d"/>
<path d="M290,154 297,153 299,155.5 292,156.5Z" fill="#41ab5d"/>
<path d="M313.6,132.4 320,130 336,127.6 340.8,126 360,124.4 400,122.8 430,123 410,129 400,130.8 390,133 376,135.6 360,142 352,147.6 336,148.4 320,147.6 328,143.6 336,142 332.8,138.8 320,139.6 313.6,137.2Z" fill="#41ab5d"/>
<path d="M262,140 272,137 280,139 272,142Z" fill="#41ab5d"/>
<path d="M240,141 250,139 256,141 248,143Z" fill="#41ab5d"/>
<path d="M297.3,174.7 301.3,165.3 314.7,161.3 333.3,161.3 346.7,166.7 357.3,170.7 368,176 370.7,182.7 378.7,190.7 382.7,193.3 373.3,197.3 370.7,201.3 365.3,197.3 364,204 362.7,212 354.7,214.7 350.7,209.3 341.3,206.7 333.3,204 320,204 316,202.7 317.3,200 326.7,198.7 333.3,197.3 338.7,190.7 341.3,184 336,180 328,178.7 317.3,178.7 310.7,176 304,176Z" fill="#41ab5d"/>
<path d="M278.7,205 284,200 292,199.5 298,203 304,207 298,209.3 288,209 282,208Z" fill="#41ab5d"/>
<path d="M286.7,213.3 292,212.5 296,214.7 290,215Z" fill="#41ab5d"/>
<path d="M298.7,216 302,215 304,217 300,217.5Z" fill="#41ab5d"/>
<path d="M378.8,141.4 392,137 406.7,132.6 425.7,126.7 443.3,125.3 460.9,125.3 475.6,123.8 516.7,123.1 551.9,123.8 546,128.2 576.8,127.5 560.7,131.1 553.3,134.1 550.4,144.3 553.3,145.8 547.5,148.7 549,156.1 543.1,160.5 535.7,163.4 537.2,173.7 532.8,176.6 521.1,176.6 510.8,182.5 494.7,188.3 484.4,194.2 472.7,198.6 458,203 450.7,210.3 446.3,217.7 441.9,225 437.5,227.2 431.6,223.5 421.3,222.1 416.9,214.7 414,205.9 414,197.1 416.9,188.3 425.7,182.5 430.1,178.1 418.4,178.1 416.9,173.7 425.7,172.2 419.9,169.3 421.3,164.9 419.9,157.5 416.9,151.7 411.1,150.2 399.3,148.7 384.7,148.7 381.7,145.8 396.4,144.3 378.8,142.1Z" fill="#eeeeee"/>
<path d="M522.5,197.1 531.3,194.9 543.1,195.7 559.2,194.2 562.1,200.1 553.3,204.5 541.6,208.9 528.4,207.4 525.5,203 529.9,201.5 524,201.5Z" fill="#eeeeee"/>
<path d="M156,477 164,472 166,464 174,463 174,474 170,482 166,486 158,482Z" fill="#f7fcf5"/>
<path d="M174,463 177,462 180,460 178,470 174,474Z" fill="#eeeeee"/>
<path d="M166,486 170,482 174,474 178,470 188,472 200,474 201,484 200,500 194,500 186,502 180,494 172,488Z" fill="#eeeeee"/>
<path d="M186,502 194,500 200,506 202,512 198,517 192,512 187,508Z" fill="#006d2c"/>
<path d="M200,512 208,510 220,510 226,514 222,518 216,516 210,522 204,516 202,512Z" fill="#eeeeee"/>
<path d="M198,438 208,433 218,434 232,440 246,448 248,450 240,451 232,448 224,442 210,438Z" fill="#eeeeee"/>
<path d="M252,452 260,451 260,460 248,460 254,457Z" fill="#eeeeee"/>
<path d="M260,451 268,452 277,458 268,460 262,463 260,460Z" fill="#41ab5d"/>
<path d="M228,459 236,460 238,462 230,462Z" fill="#eeeeee"/>
<path d="M282,459 290,459 290,461 282,461Z" fill="#eeeeee"/>
<path d="M232,412 236,411 238,415 234,414Z" fill="#eeeeee"/>
<path d="M233,420 235,420 234,427 233,426Z" fill="#eeeeee"/>
<path d="M226,520 236,506 244,500 258,494 260,496 252,504 250,512 256,522 268,528 278,530 276,550 264,554 264,560 268,578 262,584 252,576 238,566 224,558 220,550 226,536 226,526Z" fill="#a1d99b"/>
<path d="M252,504 260,496 268,498 280,504 300,502 308,508 314,518 308,528 314,538 310,536 300,540 292,542 292,552 284,558 276,550 278,530 268,528 256,522 250,512Z" fill="#eeeeee"/>
<path d="M314,518 324,526 328,536 324,546 320,554 314,550 312,538 308,528Z" fill="#eeeeee"/>
<path d="M326,533 342,531 343,547 335,552 329,550 326,539Z" fill="#41ab5d"/>
<path d="M343,533 351,534 356,541 346,550 343,547Z" fill="#eeeeee"/>
<path d="M264,554 276,550 284,558 292,552 292,542 300,540 310,536 314,550 320,554 328,550 335,552 343,547 346,550 356,541 361,552 364,557 361,562 370,566 377,568 390,574 393,579 404,579 415,581 426,589 438,594 441,605 439,616 431,626 425,635 422,645 422,658 420,672 418,680 415,685 400,695 385,702 377,715 377,727 370,740 362,752 355,747 340,737 345,725 352,712 350,707 345,700 330,687 327,672 325,662 316,654 314,645 310,638 300,635 292,630 286,618 272,620 260,622 252,614 246,606 250,592 262,584 268,578 264,560Z" fill="#41ab5d"/>
<path d="M209,576 212,567 216,560 224,558 238,566 236,574 224,584 218,590 212,584Z" fill="#74c476"/>
<path d="M208,590 218,590 224,584 236,574 238,566 252,576 262,584 250,592 246,606 252,614 260,622 268,630 272,640 270,660 265,666 250,657 240,650 228,630 216,610 208,598Z" fill="#a1d99b"/>
<path d="M260,622 272,620 286,618 292,630 300,635 310,638 314,645 316,654 325,662 327,672 315,675 307,685 305,690 295,689 286,690 280,690 272,675 270,660 272,640 268,630Z" fill="#eeeeee"/>
<path d="M307,677 327,675 330,687 345,700 350,710 345,717 332,717 330,707 320,697 307,690Z" fill="#eeeeee"/>
<path d="M265,666 270,660 272,675 280,690 286,695 282,705 280,722 277,745 282,765 284,780 285,800 290,815 295,835 302,852 315,860 322,862 327,870 335,875 325,876 307,870 295,860 285,845 280,827 277,815 280,805 275,790 270,775 272,760 270,735 270,715 267,690 266,672Z" fill="#41ab5d"/>
<path d="M286,690 295,689 305,690 320,697 330,707 332,717 345,717 352,712 340,730 337,740 337,757 347,765 347,775 337,782 327,785 325,795 317,797 322,807 317,815 315,825 322,832 317,840 317,852 320,860 315,860 302,852 295,835 290,815 285,800 284,780 282,765 277,745 280,722 282,705Z" fill="#f7fcf5"/>
<path d="M320,861 330,867 340,874 332,875 325,870Z" fill="#f7fcf5"/>
<path d="M337,737 355,747 360,757 352,762 342,760 337,750Z" fill="#eeeeee"/>
<path d="M648,135 660,133 668,132 676,131 690,132 700,133.4 690,135 680,136 674,139 672,145 668,147 660,143 652,138Z" fill="#a1d99b"/>
<path d="M684,140 692,140 694,142 686,143Z" fill="#a1d99b"/>
<path d="M634.5,217.5 639,213 648,208.5 657,201.3 666,193.2 673.2,186 682.2,179.7 693,176.1 702,173.4 715.5,171.6 726.3,175.2 720,180.6 714.6,177 709.2,177.9 706.5,183.3 698.4,184.2 691.2,181.5 684,184.2 676.8,186.9 673.2,193.2 667.8,204 662.4,208.5 661.5,214.8 663.3,222 662.4,229.2 658.8,231 651.6,234.6 643.5,237.3 638.1,234.6 635.4,226.5Z" fill="#a1d99b"/>
<path d="M691.2,181.5 698.4,184.2 706.5,183.3 702.9,189.6 704.7,195 698.4,199.5 696.6,204 687.6,210.3 684,214.8 685.8,223.8 689.4,227.4 686.7,231 682.2,236.4 680.4,246.3 674.1,250.8 667.8,249 664.2,240 660.6,232.8 662.4,229.2 663.3,222 661.5,214.8 662.4,208.5 667.8,204 673.2,193.2 676.8,186.9 684,184.2Z" fill="#238b45"/>
<path d="M706.5,183.3 709.2,177.9 714.6,177 720,180.6 720,186 725.4,189.6 727.2,197.7 731.7,204 731.7,208.5 737.1,212.1 733.5,220.2 728.1,223.8 718.2,225.6 706.5,227.4 701.1,222 698.4,213 704.7,206.7 711,200.4 708.3,197.7 702.9,196.8 704.7,195 702.9,189.6Z" fill="#74c476"/>
<path d="M709.2,231.9 720,230.1 727.2,231 727.2,239.1 721.8,239.1 715.5,236.4Z" fill="#41ab5d"/>
<path d="M703.8,240.9 711,238.2 721.8,239.1 727.2,239.1 727.2,240 729.9,245.4 725.4,248.1 716.4,247.2 703.8,247.2Z" fill="#eeeeee"/>
<path d="M702.9,248.1 716.4,247.2 723.6,249 725.4,253.5 720,257.1 711,258 704.7,253.5Z" fill="#238b45"/>
<path d="M705,253 711,255 714,257 706,257Z" fill="#f7fcf5"/>
<path d="M725,250 727,250 731,245 737,249 744,251 748,259 752,262 748,267 747,271 733,273 720,271 717,265 716,259 723,258Z" fill="#eeeeee"/>
<path d="M676,259 688,255 699,255 706,257 714,257 716,259 717,265 716,270 719,277 716,283 713,285 704,283 696,282 688,279 680,275 679,274 677,267Z" fill="#74c476"/>
<path d="M644,262 651,257 652.6,256 657.5,256 660,257.4 663.5,258.8 667,256.7 670.5,257.4 676,259 677,267 679,274 669,279 675,286 672,291 664,293 659,295 656,294 649,294 648,287 641,286 641,282 644,273Z" fill="#41ab5d"/>
<path d="M648.8,242 651.6,242 657.9,239.6 658.6,243 660,246.6 655.8,250 655.8,253.2 657.5,256 652.6,256 650.9,254.3 649.5,251.8 648.4,248.3 648.8,244.8Z" fill="#238b45"/>
<path d="M660.3,249.7 667,248.3 665.2,254.6 662.8,253.2Z" fill="#238b45"/>
<path d="M632,273 635,266 643,262 645,265 644,273 640,274Z" fill="#41ab5d"/>
<path d="M627,275 632,273 640,274 644,273 641,282 640,282 631,278Z" fill="#41ab5d"/>
<path d="M640,282 642,282 642,285 640,284Z" fill="#006d2c"/>
<path d="M596,289 600,287 607,283 616,281 625,275 627,275 631,278 640,282 640,284 641,286 648,287 649,293 645,298 643,301 645.8,303 645.8,306.8 648,311.3 649.5,315 644,318 636,322 629,322 625,321 619,318 608,319 607,313 608,302 605,297 600,293Z" fill="#a1d99b"/>
<path d="M654.8,321 657.8,320.3 658.5,325.5 656.3,328.5 654.8,325.5Z" fill="#a1d99b"/>
<path d="M642,299.3 645.8,295.5 649,294 652.5,294 657.8,295.5 660,299.3 654,301.5 649.5,300 645.8,303Z" fill="#41ab5d"/>
<path d="M659,295 664,293 672,291 675,286 677,287 685,287 692,286 691,290 688,297 685,299 675,299 667,298 660,298Z" fill="#c7e9c0"/>
<path d="M669,279 679,275 688,279 696,282 692,286 685,287 677,287 675,286Z" fill="#74c476"/>
<path d="M692,286 696,282 704,283 713,285 712,289 704,290 696,291 691,290Z" fill="#c7e9c0"/>
<path d="M687.8,294.8 690,291 697.5,289.5 705,290.3 711.8,289.5 712.5,292.5 708,298.5 703.5,302.3 697.5,304.5 692.3,303.8 687,300Z" fill="#eeeeee"/>
<path d="M675.8,300 682.5,299.3 687,300 686.3,303.8 682.5,305.3 678,307.5 676.5,304.5Z" fill="#006d2c"/>
<path d="M678,307.5 682.5,305.3 686.3,303.8 692.3,303.8 699.8,306 701.3,309 695.3,309 688.5,307.5 687,310.5 690,313.5 697.5,318 702,322.5 704.3,326.3 700.5,324 694.5,321.8 688.5,318 682.5,313.5Z" fill="#238b45"/>
<path d="M688.5,307.5 695.3,309 701.3,309 703.5,312 703.5,317.3 699.8,319.5 697.5,318 690,313.5 687,310.5Z" fill="#41ab5d"/>
<path d="M701.3,303.8 705,303 708.8,304.5 712.5,307.5 717,313.5 719.3,318 717.8,323.3 713.3,320.3 708,318.8 704.3,318 703.5,312 701.3,309 699.8,306Z" fill="#eeeeee"/>
<path d="M699.8,319.5 703.5,317.3 705.8,320.3 704.3,324 701.3,322.5Z" fill="#41ab5d"/>
<path d="M707.3,320.3 710.3,318.8 713.3,321.8 712.5,324.8 708.8,324.8Z" fill="#41ab5d"/>
<path d="M704.3,325.5 708,325.5 708.8,331.5 709.5,337.5 708,337.5 705,333.8 704.3,330Z" fill="#eeeeee"/>
<path d="M709.5,325.5 716.3,324.8 719.3,327.8 717,330 710.3,330.8Z" fill="#eeeeee"/>
<path d="M708,302 715,293 723,291 732,291 739,294 743,302 744,307 747,307 744,314 733,315 724,315 717,313 715,309 709,305Z" fill="#41ab5d"/>
<path d="M733,291 740,290 747,297 748,303 744,306 741,301 739,294Z" fill="#c7e9c0"/>
<path d="M717,315 724,315 733,315 744,314 745,322 741,325 739,329 731,329 720,329 717,323Z" fill="#c7e9c0"/>
<path d="M708.8,337.5 710.3,331.5 717,330 720.8,329.3 730,328.5 736,330 731,333 722.3,333.8 720.8,337.5 723,342 724.5,347.3 727.5,351 723.8,352.5 722.3,357 718.5,354.8 715.5,350.3 712.5,345 709.5,340.5Z" fill="#c7e9c0"/>
<path d="M726,362 738,364 737,365 727,364Z" fill="#c7e9c0"/>
<path d="M737,339 743,334 750,330 760,328 772,326 784,328 796,330 808,329 816,330 819,338 821,345 824,352 813,353 802,353 789,356 784,358 777,356 767,356 755,357 748,354 742,350 740,345Z" fill="#a1d99b"/>
<path d="M736,326 743,324 747,329 740,332 736,333Z" fill="#a1d99b"/>
<path d="M797,317 806,320 815,322 826,326 828,329 819,330 816,330 808,329 804,326Z" fill="#c7e9c0"/>
<path d="M816,330 828,329 832,321.6 836.8,326.4 834.4,330.4 838.4,328 844.8,334.4 840,336 838.4,342.4 832,342 824,340 820,338Z" fill="#eeeeee"/>
<path d="M720,271 733,273 747,271 752,269 760,269 764,274 768,278 780,281 789,283 791,291 784,294 787,298 779,299 773,302 775,306 780,309 771,311 764,307 760,303 755,301 748,303 747,297 740,290 733,291 723,291 715,293 712,289 713,285 716,283 719,277 716,270Z" fill="#f7fcf5"/>
<path d="M772,302 780,301 784,305 777,307 772,305Z" fill="#f7fcf5"/>
<path d="M594.7,234.4 602.4,234.4 599.7,239.4 606.8,239.9 605.7,244.3 603.5,248.2 606.8,249.3 610.1,255.9 613.4,257 615.6,263 621.7,266.3 620,272.9 617.3,276.2 609,277.3 603.5,278.4 598,278.4 591.4,280.6 590.3,279.5 595.8,274 592.5,270.7 595.8,268.5 594.7,264.1 596.9,261.9 601.3,260.8 600.2,257.5 594.2,254.2 593.6,251.5 591.4,252 590.9,248.2 589.2,243.8 591.4,238.3Z" fill="#238b45"/>
<path d="M573.8,259.7 582.6,253.7 583.2,258.1 588.1,259.2 589.2,263.6 587,267.4 582.6,270.2 576,271.8 572.2,270.7 575.5,266.3 574.4,262.5Z" fill="#74c476"/>
<path d="M582.6,253.7 587,253.1 590.9,256.4 588.1,259.2 583.2,258.1Z" fill="#238b45"/>
<path d="M573,319 580,317 596,318 608,320 620,322 628,325 622,330 616,338 612,346 604,353 594,356 588,360 584,355 580,354 580,346 582,336 584,326 574,326Z" fill="#c7e9c0"/>
<path d="M574,326 584,326 582,336 580,346 580,354 574,354 573,346 571,340 573,332Z" fill="#a1d99b"/>
<path d="M645.8,303 649.5,300 654,301.5 660,299.3 663.8,297 670.5,299.3 676.5,300 676.5,304.5 675,306.8 671.3,305.3 670.5,307.5 672.8,312.8 675.8,316.5 679.5,321 684,325.5 687.8,326.3 689.3,328.5 693.8,331.5 699,334.5 700.5,336.8 699,337.5 694.5,335.3 692.3,336 693,338.3 694.5,340.5 693,343.5 690,348 688.5,347.3 689.3,342.8 687,339 684,336 679.5,331.5 675,327.8 670.5,324.8 666,321 662.3,316.5 660,313.5 654.8,313.5 649.5,315 648,311.3 645.8,306.8Z" fill="#a1d99b"/>
<path d="M673.5,347.3 681.8,348.8 685.5,348.8 686.3,354.8 682.5,354 678,351.8 673.5,349.5Z" fill="#a1d99b"/>
<path d="M652.5,331.5 657,330.8 660,334.5 660,341.3 655.5,342.8 654,337.5Z" fill="#a1d99b"/>
<path d="M727,175 732,178 740,181 750,183 760,186 767,190 768,194 762,196 754,196 746,195 740,194 745,197 748,202 752,205 757,207 757,203 760,202 766,204 768,201 767,198 772,195 780,195 781,192 777,186 775,184 783,185 787,188 786,191 790,192.8 798,188 812.4,183.2 814,186.4 830,183.2 836.4,184.8 838,181.6 833.2,179.2 846,180 858,183.2 868.4,185.6 866.8,183.2 858,178.4 852.4,172 856.4,168 856.4,164 862,163.2 867.6,164 870.8,170.4 874,173.6 880.4,182.4 886,188 883.6,195.2 887.6,196 892.4,188 888.4,184 882,176 881.2,172.8 875.6,170.4 877.2,167.2 875.6,164 880.4,167.2 886,172 882.8,168.8 893.2,166.4 902,169.6 896.4,164.8 892.4,160.8 902,159.2 910,158.4 912,159.3 908,156 913.3,152 926.7,149.3 937.3,150 946.7,148 948,144.7 956,143.3 969.3,147.3 980,147.3 993.3,150.7 997.3,153.3 990.7,158 1006.7,160.7 1024,160.7 1029.3,163.3 1041.3,163.3 1040,160 1053.3,161.3 1064,165.3 1069.3,169.3 1082.7,173.3 1082,169.3 1090.7,170 1100,169.3 1110,169 1104,165 1120,165 1140,168 1160,173 1180,173 1192,177 1200,180 1220,179 1236,183 1232,177 1250,178 1270,181 1284,191 1300,201 1296,204 1308,209 1318,215 1306,215 1300,221 1298,227 1288,225 1274,229 1276,235 1290,247 1294,255 1294,275 1286,269 1272,257 1258,243 1258,235 1260,223 1258,215 1254,215 1254,223 1240,219 1236,221 1238,231 1220,230 1192,232 1184,247 1183,254 1193,257 1200,259 1214,258 1218,264 1224,276 1230,288 1231,300 1229,312 1224,319 1216,320 1212,324 1211,319 1206,310 1213,307 1208,289 1195,293 1188,288 1176,283 1164,276 1152,266 1142,263 1133,263 1129,265 1133,274 1133,281 1123,282 1112,280 1104,284 1092,284 1080,280 1066,277 1052,273 1040,271 1038,281 1024,277 1010,278 998,285 990,281 976,276 962,275 950,267 938,257 928,261 920,258 914,255 904,252 890,255 876,259 874,267 876,275 860,277 852,275 840,273 830,273 820,279 819,281 820,287 825,292 832,300 828.8,305.6 825.6,310.4 828.8,316 832,321.6 826,326 815,322 806,320 797,317 789,314 782,309 786,302 787,298 784,294 791,291 789,283 780,281 768,278 764,274 760,269 752,269 748,267 752,262 748,259 744,251 737,249 729.9,245.4 727.2,240 727.2,231 728.1,223.8 733.5,220.2 737.1,212.1 731.7,208.5 731.7,204 727.2,197.7 725.4,189.6 720,186 720,180.6 726.3,175.2Z" fill="#f7fcf5"/>
<path d="M796.4,168 798.8,164 799.6,159.2 803.6,154.4 814,149.6 826,148 838,146 842,148 830,152 818,156 812.4,160 809.2,166.4 812.4,171.2 820.4,174.4 807.6,174.4 802,170.4Z" fill="#f7fcf5"/>
<path d="M900,130.7 908,129.3 920,132 932,138 924,138.7 910.7,136Z" fill="#f7fcf5"/>
<path d="M936,136.7 944,138 952,140 945.3,140.7 937.3,141.3Z" fill="#f7fcf5"/>
<path d="M1073.3,150 1086.7,150 1100,151.3 1100,154.7 1089.3,156 1077.3,153.3Z" fill="#f7fcf5"/>
<path d="M754,131 764,130 774,131 766,133 756,133Z" fill="#f7fcf5"/>
<path d="M1252,171 1258,172 1257,174 1252,173Z" fill="#f7fcf5"/>
<path d="M1216,258 1222,263 1231,271 1242,283 1249,286 1243,286 1248,294 1255,301 1250,302 1244,293 1235,280 1224,268 1218,262Z" fill="#f7fcf5"/>
<path d="M820,279 830,273 840,273 852,275 860,277 876,275 874,267 876,259 890,255 904,252 914,255 920,258 928,261 938,257 950,267 962,275 976,276 990,281 998,285 994,290 986,300 976,310 980,320 976,320 960,320 940,322 928,330 912,316 896,316 880,306 866.4,308 872,329.6 868.8,329.6 865.6,325.6 860.8,324 856,326.4 854.4,322.4 848,319.2 846.4,315.2 843.2,311.2 846.4,308 852.8,307.2 852.8,304 850.4,298.4 841.6,297.6 833.6,300.8 832,300 825,292 820,287 819,281Z" fill="#f7fcf5"/>
<path d="M866.4,308 880,306 896,316 912,316 928,330 936,342 924,346 912,354 904,358 884,348 868,352 866.4,352 864,345.6 860.8,340.8 857.6,336 859.2,331.2 864,331.2 868.8,329.6 872,329.6Z" fill="#eeeeee"/>
<path d="M928,330 940,322 960,320 976,320 980,324 974,330 964,336 956.8,337 948,340 936,342Z" fill="#eeeeee"/>
<path d="M904,358 912,354 924,346 936,342 948,340 956.8,337 958.2,344 951.2,356.6 951.9,363.6 947.7,370.6 947,379 940,386 924,394 910,394 906,378 902,360Z" fill="#eeeeee"/>
<path d="M821,345 820,338 824,340 832,342 838.4,342.4 844.8,349.6 852,353.6 860,355.2 866.4,353.6 868,352 884,348 902,360 906,378 910,394 922,410 916,414 912,420 896,418 888,414 880,410 860,402 850,394 842,382 832,362 824,352Z" fill="#f7fcf5"/>
<path d="M910,394 924,394 940,386 947,379 947.7,370.6 951.9,363.6 951.2,356.6 958.2,344 963.8,348.2 966.6,352.4 972.9,359.4 980.6,362.2 982,362.2 965.2,367.8 969.4,374.8 973.6,380.4 972.9,384.6 970,389.5 968,396.5 958,406 962,422 952,428 944,422 916,421 922,410Z" fill="#a1d99b"/>
<path d="M956.8,337 958.2,344 963.8,348.2 966.6,352.4 972.9,359.4 980.6,362.2 982,362.2 989,369.2 991.8,375.5 993.2,383.2 1003,391.6 1004,392 1007,391.2 1021,398.2 1028,402.4 1035,404.5 1044,405.2 1047.6,405.9 1050.4,403.8 1057.4,404.5 1061.6,406.6 1063,405.9 1070.7,398.9 1079,396.8 1081.9,401 1088.9,403 1094.5,409.4 1093.8,418.5 1093,427.6 1098,429 1100,431.8 1112,434 1120,438 1132,432 1146,442 1160,442 1168,438 1180,434 1192,426 1200,414 1204,402 1200,390 1190,376 1180,366 1180,360 1188,354 1182,350 1172,350 1164,344 1168,340 1174,332 1178,336 1184,340 1192,336 1200,328 1212,324 1211,319 1206,310 1213,307 1208,289 1195,293 1188,288 1176,283 1164,276 1152,266 1142,263 1133,263 1129,265 1133,274 1133,281 1123,282 1126,292 1136,293 1147,299 1136,302 1130,306 1118,310 1120,317 1110,323 1097,326 1087,324 1080,323 1060,320 1040,310 1020,302 1004,290 998,285 994,290 986,300 976,310 980,320 980,324 974,330Z" fill="#c7e9c0"/>
<path d="M998,285 1010,278 1024,277 1038,281 1040,271 1052,273 1066,277 1080,280 1092,284 1104,284 1112,280 1123,282 1126,292 1136,293 1147,299 1136,302 1130,306 1118,310 1120,317 1110,323 1097,326 1087,324 1080,323 1060,320 1040,310 1020,302 1004,290Z" fill="#eeeeee"/>
<path d="M965.2,367.8 982,362.2 989,369.2 991.8,375.5 993.2,383.2 1003,391.6 1004,392 1002.8,392.6 1002.8,400.3 1014,404.5 1024.5,408.7 1031.5,412.2 1042.7,413.6 1044.8,405.9 1048.3,410 1054.6,411.5 1061.6,410.8 1063,405.9 1070.7,398.9 1079,396.8 1081.9,401 1088.9,403 1086.8,408 1077.7,415 1075.6,427.6 1072,436 1070,441.6 1067.2,436 1063,429 1061.6,433.2 1058,438.8 1053.2,436 1051,439.5 1046.2,441.6 1041.3,450 1036,454 1024,466 1016,474 1012,480 1014,490 1014,504 1010,510 1004,518 1002,516 996,504 988,490 982,476 976,460 972,450 964,440 958,434 952,428 962,422 958,406 968,396.5 970,389.5 972.9,384.6 973.6,380.4 969.4,374.8Z" fill="#41ab5d"/>
<path d="M1002.8,392.6 1007,391.2 1021,398.2 1028,402.4 1035,404.5 1044,405.2 1042.7,413.6 1031.5,412.2 1024.5,408.7 1014,404.5 1002.8,400.3Z" fill="#a1d99b"/>
<path d="M1047.6,405.9 1050.4,403.8 1057.4,404.5 1061.6,406.6 1061.6,410.8 1054.6,411.5 1048.3,410Z" fill="#eeeeee"/>
<path d="M1046.2,415 1052.5,416.4 1054.6,420.6 1064.4,422 1063,429 1061.6,433.2 1058,438.8 1053.2,436 1049,429 1047.6,422Z" fill="#74c476"/>
<path d="M1015,510 1020,512 1024,520 1024,528 1018,529 1014,520Z" fill="#74c476"/>
<path d="M1192,336 1200,328 1212,324 1212,330 1206,342 1208,348 1200,350 1196,342Z" fill="#eeeeee"/>
<path d="M1208,348 1216,346 1224,356 1226,364 1218,368 1212,366 1208,358Z" fill="#74c476"/>
<path d="M1251.6,306.2 1257.3,310.4 1264.9,314.2 1271.5,312.3 1276.8,318 1271.5,320 1270.6,325.6 1266.8,322.8 1262,323.7 1261.1,327.5 1257.3,327.5 1252.5,319 1256.3,317.1Z" fill="#006d2c"/>
<path d="M1260.1,330.4 1263.9,329.4 1269.6,335.1 1273.4,340.8 1273.4,347.5 1276.3,353.2 1278.2,359.8 1276.3,364.6 1270.6,366.5 1264.9,368.4 1262,373.1 1257.3,368.4 1251.6,361.7 1244,362.7 1239.2,366.5 1235.4,372.2 1241.1,372.2 1246.8,366.5 1253.5,365.5 1256.3,361.7 1256.3,353.2 1261.1,350.3 1264.9,345.6 1263.9,339.9 1261.1,334.2Z" fill="#006d2c"/>
<path d="M1231.6,375 1239.2,373.1 1243,377.9 1245,383.6 1241.1,387.4 1239.2,382.6 1234.5,378.8Z" fill="#006d2c"/>
<path d="M1245.9,372.2 1251.6,370.3 1255.4,372.2 1253.5,376 1247.8,376.9Z" fill="#006d2c"/>
<path d="M1206,422 1210,420 1211,430 1208,439 1204,432Z" fill="#eeeeee"/>
<path d="M1152,450 1160,450 1162,456 1156,460 1151,456Z" fill="#c7e9c0"/>
<path d="M1086.8,408 1088.9,403 1094.5,409.4 1093.8,418.5 1093,427.6 1098,429 1100,431.8 1112,434 1108,440 1112,444 1108,448 1098,452 1096,458 1100,470 1104,480 1110,488 1110,496 1108,504 1106,514 1103,500 1096,486 1088,476 1082,472 1080,462 1076,450 1072,446 1070,441.6 1072,436 1075.6,427.6 1077.7,415Z" fill="#eeeeee"/>
<path d="M1098,452 1108,448 1112,456 1118,462 1130,460 1136,466 1140,478 1144,484 1132,482 1126,486 1128,496 1122,494 1116,494 1112,500 1108,506 1108,516 1112,520 1118,526 1126,530 1122,532 1116,528 1110,522 1106,514 1108,504 1110,496 1110,488 1104,480 1100,470 1096,458Z" fill="#41ab5d"/>
<path d="M1108,448 1112,444 1108,440 1112,434 1120,438 1128,448 1132,460 1136,466 1130,460 1118,462 1112,456Z" fill="#eeeeee"/>
<path d="M1126,486 1132,482 1144,482 1148,488 1148,496 1140,500 1130,502 1128,496Z" fill="#00441b"/>
<path d="M1120,438 1132,432 1140,440 1146,446 1144,454 1148,464 1154,474 1160,484 1158,498 1144,506 1140,514 1138,508 1140,500 1148,496 1148,488 1144,482 1140,478 1136,466 1132,460 1128,448Z" fill="#f7fcf5"/>
<path d="M1118,526 1124,528 1130,536 1134,548 1138,556 1135,557 1126,550 1120,540 1118,532Z" fill="#a1d99b"/>
<path d="M1092,534 1100,534 1110,544 1120,554 1130,560 1136,564 1138,576 1146,580 1148,584 1146,598 1140,596 1130,584 1120,572 1112,558 1104,548 1096,540Z" fill="#006d2c"/>
<path d="M1144,598 1152,598 1170,602 1180,606 1193,611 1188,613 1174,610 1160,608 1148,604Z" fill="#006d2c"/>
<path d="M1200,612 1210,612 1208,615 1200,615Z" fill="#006d2c"/>
<path d="M1216,612 1230,611 1228,614 1218,614Z" fill="#006d2c"/>
<path d="M1210,618 1218,620 1214,621Z" fill="#006d2c"/>
<path d="M1232,620 1240,614 1246,612 1240,617 1234,622Z" fill="#006d2c"/>
<path d="M1244,613 1252,612 1248,615 1242,616Z" fill="#eeeeee"/>
<path d="M1165.4,552.8 1167.8,554.4 1175,548 1179,546.4 1185.4,542.4 1188.6,536.8 1193.4,532.8 1199,524.8 1203,527.2 1204.6,531.2 1212.6,534.4 1211,536 1204.6,540 1204.6,545.6 1207,550.4 1207,554.4 1211.8,558.4 1206.2,559.2 1204.6,566.4 1200.6,571.2 1199.8,577.6 1198.2,585.6 1191.8,586.4 1188.6,583.2 1179.8,582.4 1175.8,581.6 1168.6,580 1167,572.8 1163,566.4 1162.2,557.6Z" fill="#006d2c"/>
<path d="M1165.4,552.8 1167.8,554.4 1175,548 1179,546.4 1185.4,542.4 1188.6,536.8 1193.4,532.8 1199,524.8 1203,527.2 1204.6,531.2 1212.6,534.4 1211,536 1204.6,540 1195.8,540 1193.4,548.8 1191.8,553.6 1188.6,556.8 1181.4,556 1175,557.6 1167.8,559.2Z" fill="#a1d99b"/>
<path d="M1188.6,537 1193,534.5 1193.6,539 1190.5,540.5Z" fill="#006d2c"/>
<path d="M1217.4,558.4 1223,556.8 1231,558.4 1239,557.6 1243,555.2 1241.4,559.2 1236.6,561.6 1227,561.6 1221.4,564 1222.2,569.6 1227,569.6 1233.4,568 1231.8,570.4 1225.4,572.8 1227,580.8 1231,588 1232.6,593.6 1228.6,595.2 1225.4,590.4 1223.8,584 1221.4,580.8 1219.8,589.6 1218.2,595.2 1214.2,594.4 1215,586.4 1211.8,580.8 1212.6,576 1215.8,568 1215.8,562.4Z" fill="#006d2c"/>
<path d="M1255.8,552 1259,555.2 1260.6,559.2 1259,564 1259,568 1256.6,566.4 1255,560 1254.2,555.2Z" fill="#006d2c"/>
<path d="M1248,582 1252,584 1250,585Z" fill="#006d2c"/>
<path d="M1258,580 1270,582 1268,584 1258,583Z" fill="#006d2c"/>
<path d="M1272,570 1280,568 1288,572 1290,578 1300,576 1310,574 1322,578 1322,614 1316,612 1310,606 1304,612 1306,604 1300,592 1290,584 1282,580 1280,576 1274,574Z" fill="#006d2c"/>
<path d="M1322,578 1336,584 1346,592 1350,600 1356,606 1360,610 1367,622 1357,621 1345,612 1330,615 1322,614Z" fill="#eeeeee"/>
<path d="M1211.7,459 1219.3,459 1222,468 1219.3,473.4 1220.2,480.6 1225.6,482.4 1231,485.1 1232.8,490.5 1230.1,491.4 1223.8,487.8 1217.5,486 1214.8,480.6 1210.3,473.4 1211.2,468Z" fill="#74c476"/>
<path d="M1214.4,487.8 1219.3,488.7 1220.2,494.1 1217.5,493.2Z" fill="#74c476"/>
<path d="M1234.6,492.3 1240.9,494.1 1242.7,501.3 1239.1,504 1236.4,498.6Z" fill="#74c476"/>
<path d="M1223.8,496.8 1229.2,498.6 1234.6,502.2 1232.8,509.4 1229.2,512.1 1226.5,505.8 1223.8,504Z" fill="#74c476"/>
<path d="M1226.5,520.2 1232.8,515.7 1238.2,514.8 1242.7,510.3 1246.3,512.1 1247.2,520.2 1248.1,526.5 1245.4,529.2 1241.8,531.9 1237.3,527.4 1235.5,522 1231,521.1 1227.4,524.7Z" fill="#74c476"/>
<path d="M1211.7,499.5 1212.6,504 1205.8,513 1201.3,516.6 1204.9,511.2Z" fill="#74c476"/>
<path d="M1161.8,756.8 1167.2,749.6 1170.8,738.8 1169,720.8 1167.2,713.6 1170.8,702.8 1174.4,690.2 1183.4,684.8 1196,681.2 1210.4,675.8 1217.6,668.6 1224.8,659.6 1228.4,657.8 1235.6,650.6 1244.6,643.4 1251.8,645.2 1260.8,647 1264.4,638 1273.4,629 1278.8,629 1286,633.5 1296.8,633.5 1289.6,643.4 1289.6,650.6 1300.4,657.8 1307.6,663.2 1314.8,656 1320.2,641.6 1325.6,625.4 1329.2,634.4 1334.6,647 1338.2,656 1338.2,668.6 1345.4,677.6 1350.8,688.4 1356.2,697.4 1359.8,706.4 1359.8,719 1354.4,731.6 1347.2,746 1338.2,756.8 1329.2,767.6 1318.4,776.6 1304,780.2 1295,782 1289.6,778.4 1282.4,778.4 1275.2,774.8 1271.6,767.6 1269.8,756.8 1268,762.2 1262.6,764 1266.2,756.8 1269.8,753.2 1262.6,756.8 1257.2,760.4 1255.4,753.2 1250,747.8 1241,744.2 1232,744.2 1221.2,746 1210.4,749.6 1201.4,755 1190.6,756.8 1178,762.2 1169,762.2Z" fill="#238b45"/>
<path d="M1280,797 1297,796 1292,805 1282,811 1277,810Z" fill="#238b45"/>
<path d="M1434.2,760.2 1437.6,761.1 1438.4,765.3 1437.6,771.3 1440.1,773 1439.3,777.2 1443.5,778.9 1449.5,778.1 1446.9,781.5 1441.8,785.7 1436.7,788.3 1433.3,790.8 1429.1,794.2 1424.8,797.6 1419.7,800.2 1418,798.5 1422.3,794.2 1424,790 1422.3,787.4 1426.5,785.7 1430.8,782.3 1434.2,778.1 1434.2,771.3 1433.3,765.3Z" fill="#015a27"/>
<path d="M1412.9,794.2 1415.5,796.8 1411.2,801 1405.3,804.4 1399.3,809.5 1395.9,812.9 1388.3,816.3 1381.5,818.9 1375.5,822.3 1371.3,826.5 1365.3,828.2 1360.2,826.5 1361.1,823.1 1367,820.6 1375.5,815.5 1384,811.2 1392.5,807 1401,801 1407.8,796.8Z" fill="#015a27"/>
<path d="M1424,679 1428,680 1436,689 1433,690Z" fill="#eeeeee"/>
<path d="M1442,647 1445,648 1447,659 1444,657Z" fill="#eeeeee"/>
<path d="M1492,664 1500,663 1500,667 1493,667Z" fill="#eeeeee"/>
<path d="M1358,597 1366,596 1372,593 1378,588 1381,590 1376,596 1368,599 1361,600Z" fill="#eeeeee"/>
<path d="M1371,578 1376,580 1383,586 1382,589 1377,584 1372,581Z" fill="#eeeeee"/>
<path d="M1390,594 1394,595 1398,600 1394,599Z" fill="#eeeeee"/>
<path d="M1400,601 1404,603 1407,607 1403,605Z" fill="#eeeeee"/>
<path d="M1408,608 1412,610 1414,613 1410,612Z" fill="#eeeeee"/>
<path d="M1414,617 1419,618 1420,621 1416,620Z" fill="#eeeeee"/>
<path d="M1419,611 1421,612 1423,617 1420,616Z" fill="#eeeeee"/>
<path d="M786,358 789,356 802,353 813,353 824,352 832,362 842,382 843,397.6 850,401 856,410 861,417 863,420 866,418 868,424 872,429.6 881.6,426.4 888,421.6 889.6,415 891,418 888,434 884,450 872,456 876,466 860,478 844,486 830.4,490 830.4,484 824,472.8 817.6,461.6 811,449 806.4,439 801.6,429.6 795,420 787,409 783,401 786,395 796,390 794,386 802,378 800,375 786,375 786,371 785,364Z" fill="#eeeeee"/>
<path d="M786,375 800,375 802,378 794,386 796,390 788,395 785,386Z" fill="#f7fcf5"/>
<path d="M780,376 784,374 786,376 786,384 783,396 779,388Z" fill="#006d2c"/>
<path d="M888,422 892.8,429.6 900.8,432.8 908.8,436 904,445.6 897.6,452 894.4,460 886.4,466.4 880,469.6 873.6,456.8 886.4,450.4 888,439Z" fill="#e5f5e0"/>
<path d="M840,393 845,392 848,397 846,401 842,400Z" fill="#74c476"/>
<path d="M768,363 777,362 772,365Z" fill="#eeeeee"/>
<path d="M588,360 600,364 606,366 620,358 640,354 652,354 664,354 668,360 664,372 666,380 680,378 694,384 708,390 712,380 726,380 736,384 750,386 760,384 772,388 780,391 783,396 782,404 778,398 774,394 771,395 776,404 782.4,415 788.8,429.6 795,439 800,449 806.4,460 812.8,471 820.8,482.4 828.8,492 830,494 830,500 844,500 856,496 868,495 870,504 864,520 854,536 840,552 828,564 822,572 816,580 812,590 810,600 812,620 816,624 817,644 810,657 794,668 788,679 790,695 783,703 777,710 773,717 770,728 763,739 752,750 737,756 722,758 708,762 702,756 700,741 695,725 693,717 689,706 684,692 680,677 674,662 674,646 677,632 681,616 678,600 674,590 668,580 660,570 660,560 662,548 658,542 652,540 644,538 636,532 628,528 620,530 612,534 600,537 590,536 576,538 570,530 560,520 550,512 544,502 536,496 530,492 528,486 528,480 532,472 532,460 532,444 536,432 544,420 552,407 560,400 568,390 570,380 578,372Z" fill="#eeeeee"/>
<polyline points="552,407 573,408" class="nl"/>
<polyline points="573,408 572,416 556,420 552,432 532,444" class="nl"/>
<polyline points="572,416 584,422 588,476" class="nl"/>
<polyline points="588,476 566,476 556,474" class="nl"/>
<polyline points="584,422 620,448 632,454 672,430" class="nl"/>
<polyline points="652,354 656,366 660,380 666,380" class="nl"/>
<polyline points="656,366 662,392 666,420 672,430" class="nl"/>
<polyline points="672,430 689,437 733,441" class="nl"/>
<polyline points="733,441 738,441 738,438" class="nl"/>
<polyline points="632,428 636,468" class="nl"/>
<polyline points="689,437 685,485 667,490 645,490 632,485 636,468" class="nl"/>
<polyline points="557,490 570,494 592,490 610,481 627.6,472 636,468" class="nl"/>
<polyline points="592,490 588,498 601,503 619,505 632,498 627.6,485" class="nl"/>
<polyline points="544,494 562,494 575,507 566,520 553,512 544,503" class="nl"/>
<polyline points="575,507 588,503" class="nl"/>
<polyline points="601,503 599,516 601,534" class="nl"/>
<polyline points="566,520 575,534" class="nl"/>
<polyline points="575,507 575,520 579,534" class="nl"/>
<polyline points="619,505 627.6,503 630,529" class="nl"/>
<polyline points="733,441 733,472 737.6,507" class="nl"/>
<polyline points="685,485 689,503 707,516 737.6,507" class="nl"/>
<polyline points="733,441 790,441" class="nl"/>
<polyline points="790,441 808,472 799,485 781.6,503 764,511.6 737.6,507" class="nl"/>
<polyline points="667,511.6 685,507" class="nl"/>
<polyline points="649.6,525 667,511.6" class="nl"/>
<polyline points="685,507 680,533.6 685,551 667,555.6 662,548" class="nl"/>
<polyline points="737.6,507 750.8,520 737.6,533.6 711,538 693.6,538 680,533.6" class="nl"/>
<polyline points="781.6,503 790,516 772.8,538 755,533.6 750.8,520" class="nl"/>
<polyline points="676,555.6 689,546.8 711,538" class="nl"/>
<polyline points="755,533.6 768,546.8 764,568.8 764,595 772.8,621.6 759.6,621.6 755,630 733,630 728.8,612.8 706.8,604 698,595 680.4,595 676,586 680.4,568.8 676,555.6" class="nl"/>
<polyline points="764,568.8 790,568.8 816.8,590.8" class="nl"/>
<polyline points="772.8,621.6 786,621.6 812.4,621.6" class="nl"/>
<polyline points="676,599.6 702.4,599.6 706.8,608.4" class="nl"/>
<polyline points="733,630 724.4,643.6 724.4,661" class="nl"/>
<polyline points="680.4,661 728.8,661 746.4,656.8" class="nl"/>
<polyline points="781.6,503 799,485 816.8,489.6 834.4,507 852,524.8 825.6,533.6 808,542.4 790,533.6 790,516" class="nl"/>
<polyline points="799,485 808,472" class="nl"/>
<polyline points="813,353 810,362 806,366 800,375" class="nl"/>
<polyline points="800,375 812,382 828,386 843,397.6" class="nl"/>
<polyline points="828.8,466.4 849.6,464.8 872,456.8" class="nl"/>
<polyline points="863,420 872,430 881.6,426.4" class="nl"/>
<polyline points="802,353 800,375" class="nl"/>
<path d="M588,360 600,364 606,366 610,380 600,384 588,392 574,404 552,407 560,400 568,390 570,380 578,372Z" fill="#a1d99b"/>
<path d="M736,384 750,386 760,384 772,388 780,391 783,396 782,404 778,398 774,394 771,395 776,404 782.4,415 788.8,429.6 795,439 738,439Z" fill="#f7fcf5"/>
<path d="M528,480 534,472 542,470 552,472 556,482 558,492 544,492 532,492 530,486Z" fill="#238b45"/>
<path d="M600,502 614,501 618,514 620,528 612,533 602,537 600,524 601,512Z" fill="#238b45"/>
<path d="M634,488 644,486 660,490 680,488 686,494 682,504 676,516 668,524 658,532 652,540 644,538 636,532 629,528 629,516 632,504Z" fill="#c7e9c0"/>
<path d="M768,542 786,540 790,554 786,569 764,570 766,556Z" fill="#c7e9c0"/>
<path d="M786,540 792,534 806,544 824,542 821,560 822,572 812,588 806,584 786,570 790,554Z" fill="#f7fcf5"/>
<path d="M724,637 735,637 735,626 748,631 757,635 761,640 761,633 757,629 758,613 766,611 779,618 782,631 779,644 766,648 757,653 748,664 739,665 726,659 724,651Z" fill="#f7fcf5"/>
<path d="M788,631 796,629 814,624 817,624 817,644 810,657 794,668 788,679 790,695 783,703 774,712 772,699 769,690 774,684 777,666 774,655 766,648 779,644 784,651 788,658 792,651 788,640Z" fill="#a1d99b"/>
<path d="M781,618 786.5,624 788,640 792,651 788,658 784,651 781,644 780,631Z" fill="#a1d99b"/>
<path d="M739,665 757,653 774,655 777,666 774,684 768,690 759,689 748,677Z" fill="#f7fcf5"/>
<path d="M718,668 739,665 748,677 759,689 748,699 737,710 726,710 717,717 713,706 713,688 718,688Z" fill="#74c476"/>
<path d="M695,725 704,727 713,710 717,717 726,710 737,710 748,699 759,690 768,690 770,699 772,714 773,717 770,728 763,739 752,750 737,756 722,758 708,762 702,756 700,741Z" fill="#e5f5e0"/>
<path d="M746,732 752,728 757,732 752,737 747,736Z" fill="#eeeeee"/>
<path d="M765,711 770,712 771,718 766,719Z" fill="#eeeeee"/>
<path d="M860,633 865,644 865,653 858,666 854,681 849,695 843,706 836,709 829,703 828,692 834,677 834,664 840,655 851,648 858,640Z" fill="#eeeeee"/>
</g>
<g fill="none" stroke="#bdbdbd" stroke-width="0.8" stroke-linejoin="round">
<path d="M378.8,141.4 392,137 406.7,132.6 425.7,126.7 443.3,125.3 460.9,125.3 475.6,123.8 516.7,123.1 551.9,123.8 546,128.2 576.8,127.5 560.7,131.1 553.3,134.1 550.4,144.3 553.3,145.8 547.5,148.7 549,156.1 543.1,160.5 535.7,163.4 537.2,173.7 532.8,176.6 521.1,176.6 510.8,182.5 494.7,188.3 484.4,194.2 472.7,198.6 458,203 450.7,210.3 446.3,217.7 441.9,225 437.5,227.2 431.6,223.5 421.3,222.1 416.9,214.7 414,205.9 414,197.1 416.9,188.3 425.7,182.5 430.1,178.1 418.4,178.1 416.9,173.7 425.7,172.2 419.9,169.3 421.3,164.9 419.9,157.5 416.9,151.7 411.1,150.2 399.3,148.7 384.7,148.7 381.7,145.8 396.4,144.3 378.8,142.1Z"/>
<path d="M522.5,197.1 531.3,194.9 543.1,195.7 559.2,194.2 562.1,200.1 553.3,204.5 541.6,208.9 528.4,207.4 525.5,203 529.9,201.5 524,201.5Z"/>
<path d="M174,463 177,462 180,460 178,470 174,474Z"/>
<path d="M166,486 170,482 174,474 178,470 188,472 200,474 201,484 200,500 194,500 186,502 180,494 172,488Z"/>
<path d="M200,512 208,510 220,510 226,514 222,518 216,516 210,522 204,516 202,512Z"/>
<path d="M198,438 208,433 218,434 232,440 246,448 248,450 240,451 232,448 224,442 210,438Z"/>
<path d="M252,452 260,451 260,460 248,460 254,457Z"/>
<path d="M228,459 236,460 238,462 230,462Z"/>
<path d="M282,459 290,459 290,461 282,461Z"/>
<path d="M232,412 236,411 238,415 234,414Z"/>
<path d="M233,420 235,420 234,427 233,426Z"/>
<path d="M252,504 260,496 268,498 280,504 300,502 308,508 314,518 308,528 314,538 310,536 300,540 292,542 292,552 284,558 276,550 278,530 268,528 256,522 250,512Z"/>
<path d="M314,518 324,526 328,536 324,546 320,554 314,550 312,538 308,528Z"/>
<path d="M343,533 351,534 356,541 346,550 343,547Z"/>
<path d="M260,622 272,620 286,618 292,630 300,635 310,638 314,645 316,654 325,662 327,672 315,675 307,685 305,690 295,689 286,690 280,690 272,675 270,660 272,640 268,630Z"/>
<path d="M307,677 327,675 330,687 345,700 350,710 345,717 332,717 330,707 320,697 307,690Z"/>
<path d="M337,737 355,747 360,757 352,762 342,760 337,750Z"/>
<path d="M703.8,240.9 711,238.2 721.8,239.1 727.2,239.1 727.2,240 729.9,245.4 725.4,248.1 716.4,247.2 703.8,247.2Z"/>
<path d="M725,250 727,250 731,245 737,249 744,251 748,259 752,262 748,267 747,271 733,273 720,271 717,265 716,259 723,258Z"/>
<path d="M687.8,294.8 690,291 697.5,289.5 705,290.3 711.8,289.5 712.5,292.5 708,298.5 703.5,302.3 697.5,304.5 692.3,303.8 687,300Z"/>
<path d="M701.3,303.8 705,303 708.8,304.5 712.5,307.5 717,313.5 719.3,318 717.8,323.3 713.3,320.3 708,318.8 704.3,318 703.5,312 701.3,309 699.8,306Z"/>
<path d="M704.3,325.5 708,325.5 708.8,331.5 709.5,337.5 708,337.5 705,333.8 704.3,330Z"/>
<path d="M709.5,325.5 716.3,324.8 719.3,327.8 717,330 710.3,330.8Z"/>
<path d="M816,330 828,329 832,321.6 836.8,326.4 834.4,330.4 838.4,328 844.8,334.4 840,336 838.4,342.4 832,342 824,340 820,338Z"/>
<path d="M866.4,308 880,306 896,316 912,316 928,330 936,342 924,346 912,354 904,358 884,348 868,352 866.4,352 864,345.6 860.8,340.8 857.6,336 859.2,331.2 864,331.2 868.8,329.6 872,329.6Z"/>
<path d="M928,330 940,322 960,320 976,320 980,324 974,330 964,336 956.8,337 948,340 936,342Z"/>
<path d="M904,358 912,354 924,346 936,342 948,340 956.8,337 958.2,344 951.2,356.6 951.9,363.6 947.7,370.6 947,379 940,386 924,394 910,394 906,378 902,360Z"/>
<path d="M998,285 1010,278 1024,277 1038,281 1040,271 1052,273 1066,277 1080,280 1092,284 1104,284 1112,280 1123,282 1126,292 1136,293 1147,299 1136,302 1130,306 1118,310 1120,317 1110,323 1097,326 1087,324 1080,323 1060,320 1040,310 1020,302 1004,290Z"/>
<path d="M1047.6,405.9 1050.4,403.8 1057.4,404.5 1061.6,406.6 1061.6,410.8 1054.6,411.5 1048.3,410Z"/>
<path d="M1192,336 1200,328 1212,324 1212,330 1206,342 1208,348 1200,350 1196,342Z"/>
<path d="M1206,422 1210,420 1211,430 1208,439 1204,432Z"/>
<path d="M1086.8,408 1088.9,403 1094.5,409.4 1093.8,418.5 1093,427.6 1098,429 1100,431.8 1112,434 1108,440 1112,444 1108,448 1098,452 1096,458 1100,470 1104,480 1110,488 1110,496 1108,504 1106,514 1103,500 1096,486 1088,476 1082,472 1080,462 1076,450 1072,446 1070,441.6 1072,436 1075.6,427.6 1077.7,415Z"/>
<path d="M1108,448 1112,444 1108,440 1112,434 1120,438 1128,448 1132,460 1136,466 1130,460 1118,462 1112,456Z"/>
<path d="M1244,613 1252,612 1248,615 1242,616Z"/>
<path d="M1322,578 1336,584 1346,592 1350,600 1356,606 1360,610 1367,622 1357,621 1345,612 1330,615 1322,614Z"/>
<path d="M1424,679 1428,680 1436,689 1433,690Z"/>
<path d="M1442,647 1445,648 1447,659 1444,657Z"/>
<path d="M1492,664 1500,663 1500,667 1493,667Z"/>
<path d="M1358,597 1366,596 1372,593 1378,588 1381,590 1376,596 1368,599 1361,600Z"/>
<path d="M1371,578 1376,580 1383,586 1382,589 1377,584 1372,581Z"/>
<path d="M1390,594 1394,595 1398,600 1394,599Z"/>
<path d="M1400,601 1404,603 1407,607 1403,605Z"/>
<path d="M1408,608 1412,610 1414,613 1410,612Z"/>
<path d="M1414,617 1419,618 1420,621 1416,620Z"/>
<path d="M1419,611 1421,612 1423,617 1420,616Z"/>
<path d="M786,358 789,356 802,353 813,353 824,352 832,362 842,382 843,397.6 850,401 856,410 861,417 863,420 866,418 868,424 872,429.6 881.6,426.4 888,421.6 889.6,415 891,418 888,434 884,450 872,456 876,466 860,478 844,486 830.4,490 830.4,484 824,472.8 817.6,461.6 811,449 806.4,439 801.6,429.6 795,420 787,409 783,401 786,395 796,390 794,386 802,378 800,375 786,375 786,371 785,364Z"/>
<path d="M768,363 777,362 772,365Z"/>
<path d="M588,360 600,364 606,366 620,358 640,354 652,354 664,354 668,360 664,372 666,380 680,378 694,384 708,390 712,380 726,380 736,384 750,386 760,384 772,388 780,391 783,396 782,404 778,398 774,394 771,395 776,404 782.4,415 788.8,429.6 795,439 800,449 806.4,460 812.8,471 820.8,482.4 828.8,492 830,494 830,500 844,500 856,496 868,495 870,504 864,520 854,536 840,552 828,564 822,572 816,580 812,590 810,600 812,620 816,624 817,644 810,657 794,668 788,679 790,695 783,703 777,710 773,717 770,728 763,739 752,750 737,756 722,758 708,762 702,756 700,741 695,725 693,717 689,706 684,692 680,677 674,662 674,646 677,632 681,616 678,600 674,590 668,580 660,570 660,560 662,548 658,542 652,540 644,538 636,532 628,528 620,530 612,534 600,537 590,536 576,538 570,530 560,520 550,512 544,502 536,496 530,492 528,486 528,480 532,472 532,460 532,444 536,432 544,420 552,407 560,400 568,390 570,380 578,372Z"/>
<path d="M746,732 752,728 757,732 752,737 747,736Z"/>
<path d="M765,711 770,712 771,718 766,719Z"/>
<path d="M860,633 865,644 865,653 858,666 854,681 849,695 843,706 836,709 829,703 828,692 834,677 834,664 840,655 851,648 858,640Z"/>
</g>
<g fill="none" stroke="#000" stroke-opacity="0.5" stroke-width="0.7" stroke-linejoin="round">
<path d="M0,196 4.8,194.4 4.8,190.4 2.4,185.6 8,183.2 16,181.6 24,178.4 32,176 44,173.6 56,171.6 62.4,172 70.4,173.6 72,174.8 80,175.2 88,176.4 96,176.8 104,179.2 112,181.6 120,180.8 130,180 140,178 152,176 156,175 160,178 166,177 172,180 182,183 190,186 200,184 213,185 227,184 240,184 251,187 259,185 267,180 275,172 283,171 285,177 285,183 291,187 301,184 309,180 317,181 315,185 307,191 299,195 291,197 280,203 267,209 253,215 244,220 237,227 233,232 234.4,238.8 241,242 249.8,245.4 255.3,249.8 266.3,253.1 268.5,255.3 266.3,263 267.4,270.7 270.7,274 276.2,270.7 279.5,263 279.5,256.4 287.2,253.1 293.8,249.8 298.2,244.3 299.3,238.8 297.3,232 297.3,226.7 306.7,217.3 316,214.7 326.7,216 333.3,220 338.7,226.7 338.7,233.3 346.7,232 356,226.7 360,233.3 362.7,244 368,250.7 373,256 377.4,263 375.2,268.5 370.8,271.8 362,275.1 351,279.5 340,280.6 326.8,280.6 318,285 311.4,289.4 304.8,293.8 299.3,298.2 302.6,296 309.2,291.6 315.8,288.3 324.6,286.1 331.2,287.2 329,291.6 326.8,296 329,300.4 334.5,302.6 340,300.4 345.5,298.2 346.6,303.7 340,307 334.5,309.2 326.8,311.4 318,315.8 315.8,313.6 320.2,309.2 321.3,307 314.7,308.1 311.4,307 307,313.6 300.4,318 293.8,324.6 292.7,327.9 287.2,329 278.4,331.2 274,335.6 270,338 264,342 258,348 256,356 248,368 236,378 228,384 224,392 226,406 224,418 220,420 216,404 210,394 200,394 186,392 180,398 172,396 160,396 152,400 146,406 140,417 136,428 136,440 140,452 148,460 160,458 168,452 170,444 180,442 188,442 184,452 180,460 176,463 166,464 164,472 156,477 155,477.5 130,470 107.5,462.5 97.5,455 92.5,440 86,426 80,412.5 75,398 72,388 68,383 65,385 62.5,392.5 65,407.5 70,420 75,430 77.5,434 72.5,427.5 65,417.5 57.5,407.5 60,400 56,380 54,376 48,369 43,363 40,346 42,336 48,322 56,312 63,300 70,292 72,286 66,280 64,272 64,264 66,256 64,246 66,240 61,237 56,234.4 52,229.6 48,228 40,227.2 33.6,225.6 30.4,224 26.4,224 21.6,225.6 12,228 2.4,231.2 8,227.5 16,223.2 19.2,221.6 12,224 0,227Z"/>
<path d="M353,293 360,288 366,280 375,272 373,277 371,282 377,284 382,289 381,296 377,299 374,296 370,297 366,298 367,294 362,294 355,295Z"/>
<path d="M334.5,281.7 343.3,283.9 342.2,285.5 335.6,283.9Z"/>
<path d="M328,298 332,299 336,301 331,301Z"/>
<path d="M57,278 62,279 68,284 72,290 68,290 62,285 58,282Z"/>
<path d="M172,168 180,163 190,158 200,157 210,157 216,160 208,164 200,167 193,172 183,173 176,172Z"/>
<path d="M196,170 200,166 213,160 226.7,164 238.7,161.3 246.7,162.7 244,169.3 250.7,178.7 240,182.7 226.7,182.3 213.3,183.3 202,182.5 196,178Z"/>
<path d="M206.7,149.3 237.3,144 234.7,148 220,150.7 208,150.7Z"/>
<path d="M218.7,153.3 240,149.3 256,148 261.3,152 250.7,153.3 240,156 226.7,156Z"/>
<path d="M252,179 260,178.7 266.7,180 262,182.7 254,182.7Z"/>
<path d="M253,186 258,185.5 260,189 255,190.7Z"/>
<path d="M257.3,165.3 266.7,160 280,160 276,166.7 269.3,170.7 261.3,170.7Z"/>
<path d="M280,165.3 290.7,160 304,158.7 296,162.7 285.3,166.7Z"/>
<path d="M296,146 304,145.2 312,150 328,151.6 344,153.2 342.4,156.4 320,156.4 304,154.8 300.8,150Z"/>
<path d="M272,150.7 280,148 290.7,148 288,153.3 277.3,154.7Z"/>
<path d="M290,154 297,153 299,155.5 292,156.5Z"/>
<path d="M313.6,132.4 320,130 336,127.6 340.8,126 360,124.4 400,122.8 430,123 410,129 400,130.8 390,133 376,135.6 360,142 352,147.6 336,148.4 320,147.6 328,143.6 336,142 332.8,138.8 320,139.6 313.6,137.2Z"/>
<path d="M262,140 272,137 280,139 272,142Z"/>
<path d="M240,141 250,139 256,141 248,143Z"/>
<path d="M297.3,174.7 301.3,165.3 314.7,161.3 333.3,161.3 346.7,166.7 357.3,170.7 368,176 370.7,182.7 378.7,190.7 382.7,193.3 373.3,197.3 370.7,201.3 365.3,197.3 364,204 362.7,212 354.7,214.7 350.7,209.3 341.3,206.7 333.3,204 320,204 316,202.7 317.3,200 326.7,198.7 333.3,197.3 338.7,190.7 341.3,184 336,180 328,178.7 317.3,178.7 310.7,176 304,176Z"/>
<path d="M278.7,205 284,200 292,199.5 298,203 304,207 298,209.3 288,209 282,208Z"/>
<path d="M286.7,213.3 292,212.5 296,214.7 290,215Z"/>
<path d="M298.7,216 302,215 304,217 300,217.5Z"/>
<path d="M156,477 164,472 166,464 174,463 174,474 170,482 166,486 158,482Z"/>
<path d="M186,502 194,500 200,506 202,512 198,517 192,512 187,508Z"/>
<path d="M260,451 268,452 277,458 268,460 262,463 260,460Z"/>
<path d="M226,520 236,506 244,500 258,494 260,496 252,504 250,512 256,522 268,528 278,530 276,550 264,554 264,560 268,578 262,584 252,576 238,566 224,558 220,550 226,536 226,526Z"/>
<path d="M326,533 342,531 343,547 335,552 329,550 326,539Z"/>
<path d="M264,554 276,550 284,558 292,552 292,542 300,540 310,536 314,550 320,554 328,550 335,552 343,547 346,550 356,541 361,552 364,557 361,562 370,566 377,568 390,574 393,579 404,579 415,581 426,589 438,594 441,605 439,616 431,626 425,635 422,645 422,658 420,672 418,680 415,685 400,695 385,702 377,715 377,727 370,740 362,752 355,747 340,737 345,725 352,712 350,707 345,700 330,687 327,672 325,662 316,654 314,645 310,638 300,635 292,630 286,618 272,620 260,622 252,614 246,606 250,592 262,584 268,578 264,560Z"/>
<path d="M209,576 212,567 216,560 224,558 238,566 236,574 224,584 218,590 212,584Z"/>
<path d="M208,590 218,590 224,584 236,574 238,566 252,576 262,584 250,592 246,606 252,614 260,622 268,630 272,640 270,660 265,666 250,657 240,650 228,630 216,610 208,598Z"/>
<path d="M265,666 270,660 272,675 280,690 286,695 282,705 280,722 277,745 282,765 284,780 285,800 290,815 295,835 302,852 315,860 322,862 327,870 335,875 325,876 307,870 295,860 285,845 280,827 277,815 280,805 275,790 270,775 272,760 270,735 270,715 267,690 266,672Z"/>
<path d="M286,690 295,689 305,690 320,697 330,707 332,717 345,717 352,712 340,730 337,740 337,757 347,765 347,775 337,782 327,785 325,795 317,797 322,807 317,815 315,825 322,832 317,840 317,852 320,860 315,860 302,852 295,835 290,815 285,800 284,780 282,765 277,745 280,722 282,705Z"/>
<path d="M320,861 330,867 340,874 332,875 325,870Z"/>
<path d="M648,135 660,133 668,132 676,131 690,132 700,133.4 690,135 680,136 674,139 672,145 668,147 660,143 652,138Z"/>
<path d="M684,140 692,140 694,142 686,143Z"/>
<path d="M634.5,217.5 639,213 648,208.5 657,201.3 666,193.2 673.2,186 682.2,179.7 693,176.1 702,173.4 715.5,171.6 726.3,175.2 720,180.6 714.6,177 709.2,177.9 706.5,183.3 698.4,184.2 691.2,181.5 684,184.2 676.8,186.9 673.2,193.2 667.8,204 662.4,208.5 661.5,214.8 663.3,222 662.4,229.2 658.8,231 651.6,234.6 643.5,237.3 638.1,234.6 635.4,226.5Z"/>
<path d="M691.2,181.5 698.4,184.2 706.5,183.3 702.9,189.6 704.7,195 698.4,199.5 696.6,204 687.6,210.3 684,214.8 685.8,223.8 689.4,227.4 686.7,231 682.2,236.4 680.4,246.3 674.1,250.8 667.8,249 664.2,240 660.6,232.8 662.4,229.2 663.3,222 661.5,214.8 662.4,208.5 667.8,204 673.2,193.2 676.8,186.9 684,184.2Z"/>
<path d="M706.5,183.3 709.2,177.9 714.6,177 720,180.6 720,186 725.4,189.6 727.2,197.7 731.7,204 731.7,208.5 737.1,212.1 733.5,220.2 728.1,223.8 718.2,225.6 706.5,227.4 701.1,222 698.4,213 704.7,206.7 711,200.4 708.3,197.7 702.9,196.8 704.7,195 702.9,189.6Z"/>
<path d="M709.2,231.9 720,230.1 727.2,231 727.2,239.1 721.8,239.1 715.5,236.4Z"/>
<path d="M702.9,248.1 716.4,247.2 723.6,249 725.4,253.5 720,257.1 711,258 704.7,253.5Z"/>
<path d="M705,253 711,255 714,257 706,257Z"/>
<path d="M676,259 688,255 699,255 706,257 714,257 716,259 717,265 716,270 719,277 716,283 713,285 704,283 696,282 688,279 680,275 679,274 677,267Z"/>
<path d="M644,262 651,257 652.6,256 657.5,256 660,257.4 663.5,258.8 667,256.7 670.5,257.4 676,259 677,267 679,274 669,279 675,286 672,291 664,293 659,295 656,294 649,294 648,287 641,286 641,282 644,273Z"/>
<path d="M648.8,242 651.6,242 657.9,239.6 658.6,243 660,246.6 655.8,250 655.8,253.2 657.5,256 652.6,256 650.9,254.3 649.5,251.8 648.4,248.3 648.8,244.8Z"/>
<path d="M660.3,249.7 667,248.3 665.2,254.6 662.8,253.2Z"/>
<path d="M632,273 635,266 643,262 645,265 644,273 640,274Z"/>
<path d="M627,275 632,273 640,274 644,273 641,282 640,282 631,278Z"/>
<path d="M640,282 642,282 642,285 640,284Z"/>
<path d="M596,289 600,287 607,283 616,281 625,275 627,275 631,278 640,282 640,284 641,286 648,287 649,293 645,298 643,301 645.8,303 645.8,306.8 648,311.3 649.5,315 644,318 636,322 629,322 625,321 619,318 608,319 607,313 608,302 605,297 600,293Z"/>
<path d="M654.8,321 657.8,320.3 658.5,325.5 656.3,328.5 654.8,325.5Z"/>
<path d="M642,299.3 645.8,295.5 649,294 652.5,294 657.8,295.5 660,299.3 654,301.5 649.5,300 645.8,303Z"/>
<path d="M659,295 664,293 672,291 675,286 677,287 685,287 692,286 691,290 688,297 685,299 675,299 667,298 660,298Z"/>
<path d="M669,279 679,275 688,279 696,282 692,286 685,287 677,287 675,286Z"/>
<path d="M692,286 696,282 704,283 713,285 712,289 704,290 696,291 691,290Z"/>
<path d="M675.8,300 682.5,299.3 687,300 686.3,303.8 682.5,305.3 678,307.5 676.5,304.5Z"/>
<path d="M678,307.5 682.5,305.3 686.3,303.8 692.3,303.8 699.8,306 701.3,309 695.3,309 688.5,307.5 687,310.5 690,313.5 697.5,318 702,322.5 704.3,326.3 700.5,324 694.5,321.8 688.5,318 682.5,313.5Z"/>
<path d="M688.5,307.5 695.3,309 701.3,309 703.5,312 703.5,317.3 699.8,319.5 697.5,318 690,313.5 687,310.5Z"/>
<path d="M699.8,319.5 703.5,317.3 705.8,320.3 704.3,324 701.3,322.5Z"/>
<path d="M707.3,320.3 710.3,318.8 713.3,321.8 712.5,324.8 708.8,324.8Z"/>
<path d="M708,302 715,293 723,291 732,291 739,294 743,302 744,307 747,307 744,314 733,315 724,315 717,313 715,309 709,305Z"/>
<path d="M733,291 740,290 747,297 748,303 744,306 741,301 739,294Z"/>
<path d="M717,315 724,315 733,315 744,314 745,322 741,325 739,329 731,329 720,329 717,323Z"/>
<path d="M708.8,337.5 710.3,331.5 717,330 720.8,329.3 730,328.5 736,330 731,333 722.3,333.8 720.8,337.5 723,342 724.5,347.3 727.5,351 723.8,352.5 722.3,357 718.5,354.8 715.5,350.3 712.5,345 709.5,340.5Z"/>
<path d="M726,362 738,364 737,365 727,364Z"/>
<path d="M737,339 743,334 750,330 760,328 772,326 784,328 796,330 808,329 816,330 819,338 821,345 824,352 813,353 802,353 789,356 784,358 777,356 767,356 755,357 748,354 742,350 740,345Z"/>
<path d="M736,326 743,324 747,329 740,332 736,333Z"/>
<path d="M797,317 806,320 815,322 826,326 828,329 819,330 816,330 808,329 804,326Z"/>
<path d="M720,271 733,273 747,271 752,269 760,269 764,274 768,278 780,281 789,283 791,291 784,294 787,298 779,299 773,302 775,306 780,309 771,311 764,307 760,303 755,301 748,303 747,297 740,290 733,291 723,291 715,293 712,289 713,285 716,283 719,277 716,270Z"/>
<path d="M772,302 780,301 784,305 777,307 772,305Z"/>
<path d="M594.7,234.4 602.4,234.4 599.7,239.4 606.8,239.9 605.7,244.3 603.5,248.2 606.8,249.3 610.1,255.9 613.4,257 615.6,263 621.7,266.3 620,272.9 617.3,276.2 609,277.3 603.5,278.4 598,278.4 591.4,280.6 590.3,279.5 595.8,274 592.5,270.7 595.8,268.5 594.7,264.1 596.9,261.9 601.3,260.8 600.2,257.5 594.2,254.2 593.6,251.5 591.4,252 590.9,248.2 589.2,243.8 591.4,238.3Z"/>
<path d="M573.8,259.7 582.6,253.7 583.2,258.1 588.1,259.2 589.2,263.6 587,267.4 582.6,270.2 576,271.8 572.2,270.7 575.5,266.3 574.4,262.5Z"/>
<path d="M582.6,253.7 587,253.1 590.9,256.4 588.1,259.2 583.2,258.1Z"/>
<path d="M573,319 580,317 596,318 608,320 620,322 628,325 622,330 616,338 612,346 604,353 594,356 588,360 584,355 580,354 580,346 582,336 584,326 574,326Z"/>
<path d="M574,326 584,326 582,336 580,346 580,354 574,354 573,346 571,340 573,332Z"/>
<path d="M645.8,303 649.5,300 654,301.5 660,299.3 663.8,297 670.5,299.3 676.5,300 676.5,304.5 675,306.8 671.3,305.3 670.5,307.5 672.8,312.8 675.8,316.5 679.5,321 684,325.5 687.8,326.3 689.3,328.5 693.8,331.5 699,334.5 700.5,336.8 699,337.5 694.5,335.3 692.3,336 693,338.3 694.5,340.5 693,343.5 690,348 688.5,347.3 689.3,342.8 687,339 684,336 679.5,331.5 675,327.8 670.5,324.8 666,321 662.3,316.5 660,313.5 654.8,313.5 649.5,315 648,311.3 645.8,306.8Z"/>
<path d="M673.5,347.3 681.8,348.8 685.5,348.8 686.3,354.8 682.5,354 678,351.8 673.5,349.5Z"/>
<path d="M652.5,331.5 657,330.8 660,334.5 660,341.3 655.5,342.8 654,337.5Z"/>
<path d="M727,175 732,178 740,181 750,183 760,186 767,190 768,194 762,196 754,196 746,195 740,194 745,197 748,202 752,205 757,207 757,203 760,202 766,204 768,201 767,198 772,195 780,195 781,192 777,186 775,184 783,185 787,188 786,191 790,192.8 798,188 812.4,183.2 814,186.4 830,183.2 836.4,184.8 838,181.6 833.2,179.2 846,180 858,183.2 868.4,185.6 866.8,183.2 858,178.4 852.4,172 856.4,168 856.4,164 862,163.2 867.6,164 870.8,170.4 874,173.6 880.4,182.4 886,188 883.6,195.2 887.6,196 892.4,188 888.4,184 882,176 881.2,172.8 875.6,170.4 877.2,167.2 875.6,164 880.4,167.2 886,172 882.8,168.8 893.2,166.4 902,169.6 896.4,164.8 892.4,160.8 902,159.2 910,158.4 912,159.3 908,156 913.3,152 926.7,149.3 937.3,150 946.7,148 948,144.7 956,143.3 969.3,147.3 980,147.3 993.3,150.7 997.3,153.3 990.7,158 1006.7,160.7 1024,160.7 1029.3,163.3 1041.3,163.3 1040,160 1053.3,161.3 1064,165.3 1069.3,169.3 1082.7,173.3 1082,169.3 1090.7,170 1100,169.3 1110,169 1104,165 1120,165 1140,168 1160,173 1180,173 1192,177 1200,180 1220,179 1236,183 1232,177 1250,178 1270,181 1284,191 1300,201 1296,204 1308,209 1318,215 1306,215 1300,221 1298,227 1288,225 1274,229 1276,235 1290,247 1294,255 1294,275 1286,269 1272,257 1258,243 1258,235 1260,223 1258,215 1254,215 1254,223 1240,219 1236,221 1238,231 1220,230 1192,232 1184,247 1183,254 1193,257 1200,259 1214,258 1218,264 1224,276 1230,288 1231,300 1229,312 1224,319 1216,320 1212,324 1211,319 1206,310 1213,307 1208,289 1195,293 1188,288 1176,283 1164,276 1152,266 1142,263 1133,263 1129,265 1133,274 1133,281 1123,282 1112,280 1104,284 1092,284 1080,280 1066,277 1052,273 1040,271 1038,281 1024,277 1010,278 998,285 990,281 976,276 962,275 950,267 938,257 928,261 920,258 914,255 904,252 890,255 876,259 874,267 876,275 860,277 852,275 840,273 830,273 820,279 819,281 820,287 825,292 832,300 828.8,305.6 825.6,310.4 828.8,316 832,321.6 826,326 815,322 806,320 797,317 789,314 782,309 786,302 787,298 784,294 791,291 789,283 780,281 768,278 764,274 760,269 752,269 748,267 752,262 748,259 744,251 737,249 729.9,245.4 727.2,240 727.2,231 728.1,223.8 733.5,220.2 737.1,212.1 731.7,208.5 731.7,204 727.2,197.7 725.4,189.6 720,186 720,180.6 726.3,175.2Z"/>
<path d="M796.4,168 798.8,164 799.6,159.2 803.6,154.4 814,149.6 826,148 838,146 842,148 830,152 818,156 812.4,160 809.2,166.4 812.4,171.2 820.4,174.4 807.6,174.4 802,170.4Z"/>
<path d="M900,130.7 908,129.3 920,132 932,138 924,138.7 910.7,136Z"/>
<path d="M936,136.7 944,138 952,140 945.3,140.7 937.3,141.3Z"/>
<path d="M1073.3,150 1086.7,150 1100,151.3 1100,154.7 1089.3,156 1077.3,153.3Z"/>
<path d="M754,131 764,130 774,131 766,133 756,133Z"/>
<path d="M1252,171 1258,172 1257,174 1252,173Z"/>
<path d="M1216,258 1222,263 1231,271 1242,283 1249,286 1243,286 1248,294 1255,301 1250,302 1244,293 1235,280 1224,268 1218,262Z"/>
<path d="M820,279 830,273 840,273 852,275 860,277 876,275 874,267 876,259 890,255 904,252 914,255 920,258 928,261 938,257 950,267 962,275 976,276 990,281 998,285 994,290 986,300 976,310 980,320 976,320 960,320 940,322 928,330 912,316 896,316 880,306 866.4,308 872,329.6 868.8,329.6 865.6,325.6 860.8,324 856,326.4 854.4,322.4 848,319.2 846.4,315.2 843.2,311.2 846.4,308 852.8,307.2 852.8,304 850.4,298.4 841.6,297.6 833.6,300.8 832,300 825,292 820,287 819,281Z"/>
<path d="M821,345 820,338 824,340 832,342 838.4,342.4 844.8,349.6 852,353.6 860,355.2 866.4,353.6 868,352 884,348 902,360 906,378 910,394 922,410 916,414 912,420 896,418 888,414 880,410 860,402 850,394 842,382 832,362 824,352Z"/>
<path d="M910,394 924,394 940,386 947,379 947.7,370.6 951.9,363.6 951.2,356.6 958.2,344 963.8,348.2 966.6,352.4 972.9,359.4 980.6,362.2 982,362.2 965.2,367.8 969.4,374.8 973.6,380.4 972.9,384.6 970,389.5 968,396.5 958,406 962,422 952,428 944,422 916,421 922,410Z"/>
<path d="M956.8,337 958.2,344 963.8,348.2 966.6,352.4 972.9,359.4 980.6,362.2 982,362.2 989,369.2 991.8,375.5 993.2,383.2 1003,391.6 1004,392 1007,391.2 1021,398.2 1028,402.4 1035,404.5 1044,405.2 1047.6,405.9 1050.4,403.8 1057.4,404.5 1061.6,406.6 1063,405.9 1070.7,398.9 1079,396.8 1081.9,401 1088.9,403 1094.5,409.4 1093.8,418.5 1093,427.6 1098,429 1100,431.8 1112,434 1120,438 1132,432 1146,442 1160,442 1168,438 1180,434 1192,426 1200,414 1204,402 1200,390 1190,376 1180,366 1180,360 1188,354 1182,350 1172,350 1164,344 1168,340 1174,332 1178,336 1184,340 1192,336 1200,328 1212,324 1211,319 1206,310 1213,307 1208,289 1195,293 1188,288 1176,283 1164,276 1152,266 1142,263 1133,263 1129,265 1133,274 1133,281 1123,282 1126,292 1136,293 1147,299 1136,302 1130,306 1118,310 1120,317 1110,323 1097,326 1087,324 1080,323 1060,320 1040,310 1020,302 1004,290 998,285 994,290 986,300 976,310 980,320 980,324 974,330Z"/>
<path d="M965.2,367.8 982,362.2 989,369.2 991.8,375.5 993.2,383.2 1003,391.6 1004,392 1002.8,392.6 1002.8,400.3 1014,404.5 1024.5,408.7 1031.5,412.2 1042.7,413.6 1044.8,405.9 1048.3,410 1054.6,411.5 1061.6,410.8 1063,405.9 1070.7,398.9 1079,396.8 1081.9,401 1088.9,403 1086.8,408 1077.7,415 1075.6,427.6 1072,436 1070,441.6 1067.2,436 1063,429 1061.6,433.2 1058,438.8 1053.2,436 1051,439.5 1046.2,441.6 1041.3,450 1036,454 1024,466 1016,474 1012,480 1014,490 1014,504 1010,510 1004,518 1002,516 996,504 988,490 982,476 976,460 972,450 964,440 958,434 952,428 962,422 958,406 968,396.5 970,389.5 972.9,384.6 973.6,380.4 969.4,374.8Z"/>
<path d="M1002.8,392.6 1007,391.2 1021,398.2 1028,402.4 1035,404.5 1044,405.2 1042.7,413.6 1031.5,412.2 1024.5,408.7 1014,404.5 1002.8,400.3Z"/>
<path d="M1046.2,415 1052.5,416.4 1054.6,420.6 1064.4,422 1063,429 1061.6,433.2 1058,438.8 1053.2,436 1049,429 1047.6,422Z"/>
<path d="M1015,510 1020,512 1024,520 1024,528 1018,529 1014,520Z"/>
<path d="M1208,348 1216,346 1224,356 1226,364 1218,368 1212,366 1208,358Z"/>
<path d="M1251.6,306.2 1257.3,310.4 1264.9,314.2 1271.5,312.3 1276.8,318 1271.5,320 1270.6,325.6 1266.8,322.8 1262,323.7 1261.1,327.5 1257.3,327.5 1252.5,319 1256.3,317.1Z"/>
<path d="M1260.1,330.4 1263.9,329.4 1269.6,335.1 1273.4,340.8 1273.4,347.5 1276.3,353.2 1278.2,359.8 1276.3,364.6 1270.6,366.5 1264.9,368.4 1262,373.1 1257.3,368.4 1251.6,361.7 1244,362.7 1239.2,366.5 1235.4,372.2 1241.1,372.2 1246.8,366.5 1253.5,365.5 1256.3,361.7 1256.3,353.2 1261.1,350.3 1264.9,345.6 1263.9,339.9 1261.1,334.2Z"/>
<path d="M1231.6,375 1239.2,373.1 1243,377.9 1245,383.6 1241.1,387.4 1239.2,382.6 1234.5,378.8Z"/>
<path d="M1245.9,372.2 1251.6,370.3 1255.4,372.2 1253.5,376 1247.8,376.9Z"/>
<path d="M1152,450 1160,450 1162,456 1156,460 1151,456Z"/>
<path d="M1098,452 1108,448 1112,456 1118,462 1130,460 1136,466 1140,478 1144,484 1132,482 1126,486 1128,496 1122,494 1116,494 1112,500 1108,506 1108,516 1112,520 1118,526 1126,530 1122,532 1116,528 1110,522 1106,514 1108,504 1110,496 1110,488 1104,480 1100,470 1096,458Z"/>
<path d="M1126,486 1132,482 1144,482 1148,488 1148,496 1140,500 1130,502 1128,496Z"/>
<path d="M1120,438 1132,432 1140,440 1146,446 1144,454 1148,464 1154,474 1160,484 1158,498 1144,506 1140,514 1138,508 1140,500 1148,496 1148,488 1144,482 1140,478 1136,466 1132,460 1128,448Z"/>
<path d="M1118,526 1124,528 1130,536 1134,548 1138,556 1135,557 1126,550 1120,540 1118,532Z"/>
<path d="M1092,534 1100,534 1110,544 1120,554 1130,560 1136,564 1138,576 1146,580 1148,584 1146,598 1140,596 1130,584 1120,572 1112,558 1104,548 1096,540Z"/>
<path d="M1144,598 1152,598 1170,602 1180,606 1193,611 1188,613 1174,610 1160,608 1148,604Z"/>
<path d="M1200,612 1210,612 1208,615 1200,615Z"/>
<path d="M1216,612 1230,611 1228,614 1218,614Z"/>
<path d="M1210,618 1218,620 1214,621Z"/>
<path d="M1232,620 1240,614 1246,612 1240,617 1234,622Z"/>
<path d="M1165.4,552.8 1167.8,554.4 1175,548 1179,546.4 1185.4,542.4 1188.6,536.8 1193.4,532.8 1199,524.8 1203,527.2 1204.6,531.2 1212.6,534.4 1211,536 1204.6,540 1204.6,545.6 1207,550.4 1207,554.4 1211.8,558.4 1206.2,559.2 1204.6,566.4 1200.6,571.2 1199.8,577.6 1198.2,585.6 1191.8,586.4 1188.6,583.2 1179.8,582.4 1175.8,581.6 1168.6,580 1167,572.8 1163,566.4 1162.2,557.6Z"/>
<path d="M1165.4,552.8 1167.8,554.4 1175,548 1179,546.4 1185.4,542.4 1188.6,536.8 1193.4,532.8 1199,524.8 1203,527.2 1204.6,531.2 1212.6,534.4 1211,536 1204.6,540 1195.8,540 1193.4,548.8 1191.8,553.6 1188.6,556.8 1181.4,556 1175,557.6 1167.8,559.2Z"/>
<path d="M1188.6,537 1193,534.5 1193.6,539 1190.5,540.5Z"/>
<path d="M1217.4,558.4 1223,556.8 1231,558.4 1239,557.6 1243,555.2 1241.4,559.2 1236.6,561.6 1227,561.6 1221.4,564 1222.2,569.6 1227,569.6 1233.4,568 1231.8,570.4 1225.4,572.8 1227,580.8 1231,588 1232.6,593.6 1228.6,595.2 1225.4,590.4 1223.8,584 1221.4,580.8 1219.8,589.6 1218.2,595.2 1214.2,594.4 1215,586.4 1211.8,580.8 1212.6,576 1215.8,568 1215.8,562.4Z"/>
<path d="M1255.8,552 1259,555.2 1260.6,559.2 1259,564 1259,568 1256.6,566.4 1255,560 1254.2,555.2Z"/>
<path d="M1248,582 1252,584 1250,585Z"/>
<path d="M1258,580 1270,582 1268,584 1258,583Z"/>
<path d="M1272,570 1280,568 1288,572 1290,578 1300,576 1310,574 1322,578 1322,614 1316,612 1310,606 1304,612 1306,604 1300,592 1290,584 1282,580 1280,576 1274,574Z"/>
<path d="M1211.7,459 1219.3,459 1222,468 1219.3,473.4 1220.2,480.6 1225.6,482.4 1231,485.1 1232.8,490.5 1230.1,491.4 1223.8,487.8 1217.5,486 1214.8,480.6 1210.3,473.4 1211.2,468Z"/>
<path d="M1214.4,487.8 1219.3,488.7 1220.2,494.1 1217.5,493.2Z"/>
<path d="M1234.6,492.3 1240.9,494.1 1242.7,501.3 1239.1,504 1236.4,498.6Z"/>
<path d="M1223.8,496.8 1229.2,498.6 1234.6,502.2 1232.8,509.4 1229.2,512.1 1226.5,505.8 1223.8,504Z"/>
<path d="M1226.5,520.2 1232.8,515.7 1238.2,514.8 1242.7,510.3 1246.3,512.1 1247.2,520.2 1248.1,526.5 1245.4,529.2 1241.8,531.9 1237.3,527.4 1235.5,522 1231,521.1 1227.4,524.7Z"/>
<path d="M1211.7,499.5 1212.6,504 1205.8,513 1201.3,516.6 1204.9,511.2Z"/>
<path d="M1161.8,756.8 1167.2,749.6 1170.8,738.8 1169,720.8 1167.2,713.6 1170.8,702.8 1174.4,690.2 1183.4,684.8 1196,681.2 1210.4,675.8 1217.6,668.6 1224.8,659.6 1228.4,657.8 1235.6,650.6 1244.6,643.4 1251.8,645.2 1260.8,647 1264.4,638 1273.4,629 1278.8,629 1286,633.5 1296.8,633.5 1289.6,643.4 1289.6,650.6 1300.4,657.8 1307.6,663.2 1314.8,656 1320.2,641.6 1325.6,625.4 1329.2,634.4 1334.6,647 1338.2,656 1338.2,668.6 1345.4,677.6 1350.8,688.4 1356.2,697.4 1359.8,706.4 1359.8,719 1354.4,731.6 1347.2,746 1338.2,756.8 1329.2,767.6 1318.4,776.6 1304,780.2 1295,782 1289.6,778.4 1282.4,778.4 1275.2,774.8 1271.6,767.6 1269.8,756.8 1268,762.2 1262.6,764 1266.2,756.8 1269.8,753.2 1262.6,756.8 1257.2,760.4 1255.4,753.2 1250,747.8 1241,744.2 1232,744.2 1221.2,746 1210.4,749.6 1201.4,755 1190.6,756.8 1178,762.2 1169,762.2Z"/>
<path d="M1280,797 1297,796 1292,805 1282,811 1277,810Z"/>
<path d="M1434.2,760.2 1437.6,761.1 1438.4,765.3 1437.6,771.3 1440.1,773 1439.3,777.2 1443.5,778.9 1449.5,778.1 1446.9,781.5 1441.8,785.7 1436.7,788.3 1433.3,790.8 1429.1,794.2 1424.8,797.6 1419.7,800.2 1418,798.5 1422.3,794.2 1424,790 1422.3,787.4 1426.5,785.7 1430.8,782.3 1434.2,778.1 1434.2,771.3 1433.3,765.3Z"/>
<path d="M1412.9,794.2 1415.5,796.8 1411.2,801 1405.3,804.4 1399.3,809.5 1395.9,812.9 1388.3,816.3 1381.5,818.9 1375.5,822.3 1371.3,826.5 1365.3,828.2 1360.2,826.5 1361.1,823.1 1367,820.6 1375.5,815.5 1384,811.2 1392.5,807 1401,801 1407.8,796.8Z"/>
<path d="M786,375 800,375 802,378 794,386 796,390 788,395 785,386Z"/>
<path d="M780,376 784,374 786,376 786,384 783,396 779,388Z"/>
<path d="M888,422 892.8,429.6 900.8,432.8 908.8,436 904,445.6 897.6,452 894.4,460 886.4,466.4 880,469.6 873.6,456.8 886.4,450.4 888,439Z"/>
<path d="M840,393 845,392 848,397 846,401 842,400Z"/>
<path d="M588,360 600,364 606,366 610,380 600,384 588,392 574,404 552,407 560,400 568,390 570,380 578,372Z"/>
<path d="M736,384 750,386 760,384 772,388 780,391 783,396 782,404 778,398 774,394 771,395 776,404 782.4,415 788.8,429.6 795,439 738,439Z"/>
<path d="M528,480 534,472 542,470 552,472 556,482 558,492 544,492 532,492 530,486Z"/>
<path d="M600,502 614,501 618,514 620,528 612,533 602,537 600,524 601,512Z"/>
<path d="M634,488 644,486 660,490 680,488 686,494 682,504 676,516 668,524 658,532 652,540 644,538 636,532 629,528 629,516 632,504Z"/>
<path d="M768,542 786,540 790,554 786,569 764,570 766,556Z"/>
<path d="M786,540 792,534 806,544 824,542 821,560 822,572 812,588 806,584 786,570 790,554Z"/>
<path d="M724,637 735,637 735,626 748,631 757,635 761,640 761,633 757,629 758,613 766,611 779,618 782,631 779,644 766,648 757,653 748,664 739,665 726,659 724,651Z"/>
<path d="M788,631 796,629 814,624 817,624 817,644 810,657 794,668 788,679 790,695 783,703 774,712 772,699 769,690 774,684 777,666 774,655 766,648 779,644 784,651 788,658 792,651 788,640Z"/>
<path d="M781,618 786.5,624 788,640 792,651 788,658 784,651 781,644 780,631Z"/>
<path d="M739,665 757,653 774,655 777,666 774,684 768,690 759,689 748,677Z"/>
<path d="M718,668 739,665 748,677 759,689 748,699 737,710 726,710 717,717 713,706 713,688 718,688Z"/>
<path d="M695,725 704,727 713,710 717,717 726,710 737,710 748,699 759,690 768,690 770,699 772,714 773,717 770,728 763,739 752,750 737,756 722,758 708,762 702,756 700,741Z"/>
<polyline points="104,179.2 51.2,225.6 57.6,226.4 58.4,232.8 68.8,228.8 70.4,232 72,240 70,248 68,256 66,258"/>
<polyline points="72,286 100,286 150,286 198,286 200,287 226,291 230,294 237,298 241,303 244,309 243,318 237,324 234,327 243,325 256,317 266,315 276,309 292,307 298,305 303,298 309,296 312,297 311,305 315,308"/>
<polyline points="56,379 66,379 80,384 96,384 104,384 114,396 122,396 130,404 136,414 140,417"/>
</g>
<path d="M330,186 335,188 332,190 328,189Z" fill="#fff" stroke="#000" stroke-opacity="0.45" stroke-width="0.7"/>
</g>
<g id="button">
<rect x="1425.5" y="133.5" width="120" height="40.5" rx="5" ry="5" fill="#fff" stroke="#c4c4c4" stroke-width="1.5"/>
<text x="1438.5" y="162.5" font-size="22.5" letter-spacing="1.2" fill="#333">World</text>
</g>
<g id="legend">
<rect x="34" y="949" width="82" height="19.5" fill="#eeeeee" stroke="#a8a8a8" stroke-width="1"/>
<line x1="75" y1="943.5" x2="75" y2="949" stroke="#999" stroke-width="1"/>
<text x="75" y="937" text-anchor="middle" font-size="21" fill="#333" textLength="78" lengthAdjust="spacingAndGlyphs">No data</text>
<rect x="150.50" y="949" width="131.45" height="19.5" fill="#f7fcf5" stroke="#777" stroke-width="0.8"/>
<rect x="281.95" y="949" width="131.45" height="19.5" fill="#e5f5e0" stroke="#777" stroke-width="0.8"/>
<rect x="413.40" y="949" width="131.45" height="19.5" fill="#c7e9c0" stroke="#777" stroke-width="0.8"/>
<rect x="544.85" y="949" width="131.45" height="19.5" fill="#a1d99b" stroke="#777" stroke-width="0.8"/>
<rect x="676.30" y="949" width="131.45" height="19.5" fill="#74c476" stroke="#777" stroke-width="0.8"/>
<rect x="807.75" y="949" width="131.45" height="19.5" fill="#41ab5d" stroke="#777" stroke-width="0.8"/>
<rect x="939.20" y="949" width="131.45" height="19.5" fill="#238b45" stroke="#777" stroke-width="0.8"/>
<rect x="1070.65" y="949" width="131.45" height="19.5" fill="#006d2c" stroke="#777" stroke-width="0.8"/>
<rect x="1202.10" y="949" width="131.45" height="19.5" fill="#015a27" stroke="#777" stroke-width="0.8"/>
<rect x="1333.55" y="949" width="131.45" height="19.5" fill="#00441b" stroke="#777" stroke-width="0.8"/>
<line x1="150.50" y1="943.5" x2="150.50" y2="949" stroke="#888" stroke-width="1"/>
<text x="150.50" y="937" text-anchor="middle" font-size="22.5" fill="#333">0%</text>
<line x1="281.95" y1="943.5" x2="281.95" y2="949" stroke="#888" stroke-width="1"/>
<text x="281.95" y="937" text-anchor="middle" font-size="22.5" fill="#333">0.1%</text>
<line x1="413.40" y1="943.5" x2="413.40" y2="949" stroke="#888" stroke-width="1"/>
<text x="413.40" y="937" text-anchor="middle" font-size="22.5" fill="#333">0.2%</text>
<line x1="544.85" y1="943.5" x2="544.85" y2="949" stroke="#888" stroke-width="1"/>
<text x="544.85" y="937" text-anchor="middle" font-size="22.5" fill="#333">0.5%</text>
<line x1="676.30" y1="943.5" x2="676.30" y2="949" stroke="#888" stroke-width="1"/>
<text x="676.30" y="937" text-anchor="middle" font-size="22.5" fill="#333">1%</text>
<line x1="807.75" y1="943.5" x2="807.75" y2="949" stroke="#888" stroke-width="1"/>
<text x="807.75" y="937" text-anchor="middle" font-size="22.5" fill="#333">2%</text>
<line x1="939.20" y1="943.5" x2="939.20" y2="949" stroke="#888" stroke-width="1"/>
<text x="939.20" y="937" text-anchor="middle" font-size="22.5" fill="#333">5%</text>
<line x1="1070.65" y1="943.5" x2="1070.65" y2="949" stroke="#888" stroke-width="1"/>
<text x="1070.65" y="937" text-anchor="middle" font-size="22.5" fill="#333">10%</text>
<line x1="1202.10" y1="943.5" x2="1202.10" y2="949" stroke="#888" stroke-width="1"/>
<text x="1202.10" y="937" text-anchor="middle" font-size="22.5" fill="#333">20%</text>
<line x1="1333.55" y1="943.5" x2="1333.55" y2="949" stroke="#888" stroke-width="1"/>
<text x="1333.55" y="937" text-anchor="middle" font-size="22.5" fill="#333">50%</text>
<line x1="1465.00" y1="943.5" x2="1465.00" y2="949" stroke="#888" stroke-width="1"/>
<text x="1465.00" y="937" text-anchor="middle" font-size="22.5" fill="#333">100%</text>
</g>
</svg>
</body></html>
